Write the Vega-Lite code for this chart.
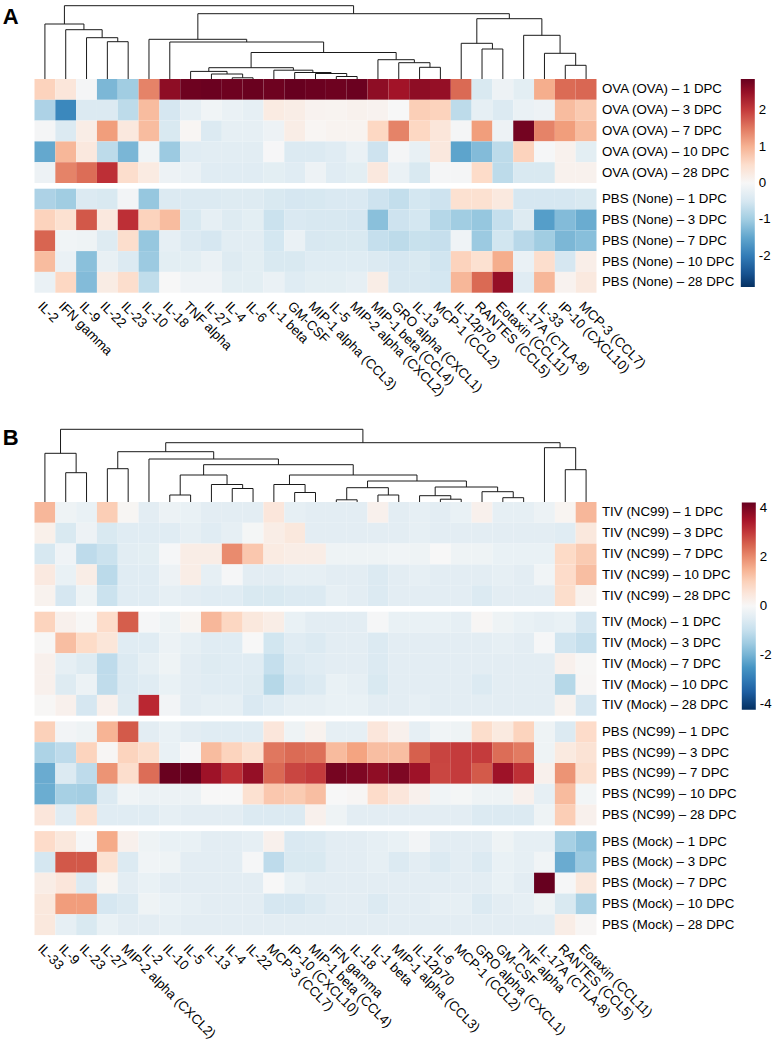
{
  "$schema": "https://vega.github.io/schema/vega-lite/v6.json",
  "padding": {"left": 2.5, "top": 5, "right": 0, "bottom": 0},
  "config": {
    "view": {"stroke": null},
    "font": "Liberation Sans",
    "axis": {"labelColor": "#000", "labelFontSize": 13.3, "labelFont": "Liberation Sans"},
    "legend": {"labelColor": "#000", "labelFontSize": 13.3, "labelFont": "Liberation Sans"},
    "title": {"color": "#000"}
  },
  "datasets": {
    "treeA": [
      {"left": 3, "right": 4, "height": 37.3, "leftHeight": 0, "rightHeight": 0},
      {"left": 2, "right": 3.5, "height": 41.3, "leftHeight": 0, "rightHeight": 37.3},
      {"left": 1, "right": 2.75, "height": 49.3, "leftHeight": 0, "rightHeight": 41.3},
      {"left": 0, "right": 1.875, "height": 55, "leftHeight": 0, "rightHeight": 49.3},
      {"left": 9, "right": 10, "height": 1.2, "leftHeight": 0, "rightHeight": 0},
      {"left": 8, "right": 9.5, "height": 5, "leftHeight": 0, "rightHeight": 1.2},
      {"left": 7, "right": 8.75, "height": 7.6, "leftHeight": 0, "rightHeight": 5},
      {"left": 14, "right": 15, "height": 2.5, "leftHeight": 0, "rightHeight": 0},
      {"left": 13, "right": 14.5, "height": 5.5, "leftHeight": 0, "rightHeight": 2.5},
      {"left": 12, "right": 13.75, "height": 6.5, "leftHeight": 0, "rightHeight": 5.5},
      {"left": 11, "right": 12.875, "height": 8.8, "leftHeight": 0, "rightHeight": 6.5},
      {"left": 7.875, "right": 11.9375, "height": 11.3, "leftHeight": 7.6, "rightHeight": 8.8},
      {"left": 18, "right": 19, "height": 11.7, "leftHeight": 0, "rightHeight": 0},
      {"left": 17, "right": 18.5, "height": 16.3, "leftHeight": 0, "rightHeight": 11.7},
      {"left": 16, "right": 17.75, "height": 19.3, "leftHeight": 0, "rightHeight": 16.3},
      {"left": 9.90625, "right": 16.875, "height": 26.5, "leftHeight": 11.3, "rightHeight": 19.3},
      {"left": 6, "right": 13.390625, "height": 37, "leftHeight": 0, "rightHeight": 26.5},
      {"left": 5, "right": 9.6953125, "height": 39.7, "leftHeight": 0, "rightHeight": 37},
      {"left": 21, "right": 22, "height": 30, "leftHeight": 0, "rightHeight": 0},
      {"left": 20, "right": 21.5, "height": 35.7, "leftHeight": 0, "rightHeight": 30},
      {"left": 25, "right": 26, "height": 13.7, "leftHeight": 0, "rightHeight": 0},
      {"left": 24, "right": 25.5, "height": 25.7, "leftHeight": 0, "rightHeight": 13.7},
      {"left": 23, "right": 24.75, "height": 43.7, "leftHeight": 0, "rightHeight": 25.7},
      {"left": 20.75, "right": 23.875, "height": 60.3, "leftHeight": 35.7, "rightHeight": 43.7},
      {"left": 7.34765625, "right": 22.3125, "height": 65.3, "leftHeight": 39.7, "rightHeight": 60.3},
      {"left": 0.9375, "right": 14.830078125, "height": 73.3, "leftHeight": 55, "rightHeight": 65.3}
    ],
    "treeB": [
      {"left": 1, "right": 2, "height": 29.3, "leftHeight": 0, "rightHeight": 0},
      {"left": 0, "right": 1.5, "height": 48.7, "leftHeight": 0, "rightHeight": 29.3},
      {"left": 25, "right": 26, "height": 32.3, "leftHeight": 0, "rightHeight": 0},
      {"left": 24, "right": 25.5, "height": 54.3, "leftHeight": 0, "rightHeight": 32.3},
      {"left": 3, "right": 4, "height": 33.3, "leftHeight": 0, "rightHeight": 0},
      {"left": 6, "right": 7, "height": 7, "leftHeight": 0, "rightHeight": 0},
      {"left": 9, "right": 10, "height": 13.5, "leftHeight": 0, "rightHeight": 0},
      {"left": 8, "right": 9.5, "height": 17.5, "leftHeight": 0, "rightHeight": 13.5},
      {"left": 6.5, "right": 8.75, "height": 27, "leftHeight": 7, "rightHeight": 17.5},
      {"left": 12, "right": 13, "height": 9.5, "leftHeight": 0, "rightHeight": 0},
      {"left": 11, "right": 12.5, "height": 17.5, "leftHeight": 0, "rightHeight": 9.5},
      {"left": 14, "right": 15, "height": 2.2, "leftHeight": 0, "rightHeight": 0},
      {"left": 16, "right": 17, "height": 7, "leftHeight": 0, "rightHeight": 0},
      {"left": 14.5, "right": 16.5, "height": 14.3, "leftHeight": 2.2, "rightHeight": 7},
      {"left": 19, "right": 20, "height": 2.8, "leftHeight": 0, "rightHeight": 0},
      {"left": 18, "right": 19.5, "height": 6.3, "leftHeight": 0, "rightHeight": 2.8},
      {"left": 22, "right": 23, "height": 4.3, "leftHeight": 0, "rightHeight": 0},
      {"left": 21, "right": 22.5, "height": 10.3, "leftHeight": 0, "rightHeight": 4.3},
      {"left": 18.75, "right": 21.75, "height": 15, "leftHeight": 6.3, "rightHeight": 10.3},
      {"left": 15.5, "right": 20.25, "height": 21, "leftHeight": 14.3, "rightHeight": 15},
      {"left": 11.75, "right": 17.875, "height": 27, "leftHeight": 17.5, "rightHeight": 21},
      {"left": 7.625, "right": 14.8125, "height": 37.3, "leftHeight": 27, "rightHeight": 27},
      {"left": 5, "right": 11.21875, "height": 43, "leftHeight": 0, "rightHeight": 37.3},
      {"left": 3.5, "right": 8.109375, "height": 50.3, "leftHeight": 33.3, "rightHeight": 43},
      {"left": 5.8046875, "right": 24.75, "height": 59.3, "leftHeight": 50.3, "rightHeight": 54.3},
      {"left": 0.75, "right": 15.27734375, "height": 72.7, "leftHeight": 48.7, "rightHeight": 59.3}
    ],
    "cellsA": [
      {"row":"OVA (OVA) – 1 DPC","col":"IL-2","z":0.65},{"row":"OVA (OVA) – 1 DPC","col":"IFN gamma","z":0.35},{"row":"OVA (OVA) – 1 DPC","col":"IL-9","z":-0.05},{"row":"OVA (OVA) – 1 DPC","col":"IL-22","z":-1.3},{"row":"OVA (OVA) – 1 DPC","col":"IL-23","z":-1.0},{"row":"OVA (OVA) – 1 DPC","col":"IL-10","z":1.42},{"row":"OVA (OVA) – 1 DPC","col":"IL-18","z":2.55},{"row":"OVA (OVA) – 1 DPC","col":"TNF alpha","z":2.8},{"row":"OVA (OVA) – 1 DPC","col":"IL-27","z":2.82},{"row":"OVA (OVA) – 1 DPC","col":"IL-4","z":2.8},{"row":"OVA (OVA) – 1 DPC","col":"IL-6","z":2.83},{"row":"OVA (OVA) – 1 DPC","col":"IL-1 beta","z":2.8},{"row":"OVA (OVA) – 1 DPC","col":"GM-CSF","z":2.85},{"row":"OVA (OVA) – 1 DPC","col":"MIP-1 alpha (CCL3)","z":2.82},{"row":"OVA (OVA) – 1 DPC","col":"IL-5","z":2.8},{"row":"OVA (OVA) – 1 DPC","col":"MIP-2 alpha (CXCL2)","z":2.82},{"row":"OVA (OVA) – 1 DPC","col":"MIP-1 beta (CCL4)","z":2.55},{"row":"OVA (OVA) – 1 DPC","col":"GRO alpha (CXCL1)","z":2.4},{"row":"OVA (OVA) – 1 DPC","col":"IL-13","z":2.55},{"row":"OVA (OVA) – 1 DPC","col":"MCP-1 (CCL2)","z":2.5},{"row":"OVA (OVA) – 1 DPC","col":"IL-12p70","z":1.63},{"row":"OVA (OVA) – 1 DPC","col":"RANTES (CCL5)","z":-0.45},{"row":"OVA (OVA) – 1 DPC","col":"Eotaxin (CCL11)","z":-0.15},{"row":"OVA (OVA) – 1 DPC","col":"IL-17A (CTLA-8)","z":-0.3},{"row":"OVA (OVA) – 1 DPC","col":"IL-33","z":1.05},{"row":"OVA (OVA) – 1 DPC","col":"IP-10 (CXCL10)","z":1.62},{"row":"OVA (OVA) – 1 DPC","col":"MCP-3 (CCL7)","z":1.65},
      {"row":"OVA (OVA) – 3 DPC","col":"IL-2","z":-0.9},{"row":"OVA (OVA) – 3 DPC","col":"IFN gamma","z":-1.85},{"row":"OVA (OVA) – 3 DPC","col":"IL-9","z":-0.4},{"row":"OVA (OVA) – 3 DPC","col":"IL-22","z":-0.4},{"row":"OVA (OVA) – 3 DPC","col":"IL-23","z":-0.75},{"row":"OVA (OVA) – 3 DPC","col":"IL-10","z":0.9},{"row":"OVA (OVA) – 3 DPC","col":"IL-18","z":-0.5},{"row":"OVA (OVA) – 3 DPC","col":"TNF alpha","z":-0.25},{"row":"OVA (OVA) – 3 DPC","col":"IL-27","z":-0.1},{"row":"OVA (OVA) – 3 DPC","col":"IL-4","z":-0.2},{"row":"OVA (OVA) – 3 DPC","col":"IL-6","z":-0.25},{"row":"OVA (OVA) – 3 DPC","col":"IL-1 beta","z":0.25},{"row":"OVA (OVA) – 3 DPC","col":"GM-CSF","z":0.2},{"row":"OVA (OVA) – 3 DPC","col":"MIP-1 alpha (CCL3)","z":0.1},{"row":"OVA (OVA) – 3 DPC","col":"IL-5","z":0.08},{"row":"OVA (OVA) – 3 DPC","col":"MIP-2 alpha (CXCL2)","z":0.12},{"row":"OVA (OVA) – 3 DPC","col":"MIP-1 beta (CCL4)","z":0.1},{"row":"OVA (OVA) – 3 DPC","col":"GRO alpha (CXCL1)","z":0.0},{"row":"OVA (OVA) – 3 DPC","col":"IL-13","z":0.7},{"row":"OVA (OVA) – 3 DPC","col":"MCP-1 (CCL2)","z":0.65},{"row":"OVA (OVA) – 3 DPC","col":"IL-12p70","z":-0.75},{"row":"OVA (OVA) – 3 DPC","col":"RANTES (CCL5)","z":-0.25},{"row":"OVA (OVA) – 3 DPC","col":"Eotaxin (CCL11)","z":-0.4},{"row":"OVA (OVA) – 3 DPC","col":"IL-17A (CTLA-8)","z":-0.2},{"row":"OVA (OVA) – 3 DPC","col":"IL-33","z":-0.15},{"row":"OVA (OVA) – 3 DPC","col":"IP-10 (CXCL10)","z":0.9},{"row":"OVA (OVA) – 3 DPC","col":"MCP-3 (CCL7)","z":0.75},
      {"row":"OVA (OVA) – 7 DPC","col":"IL-2","z":-0.05},{"row":"OVA (OVA) – 7 DPC","col":"IFN gamma","z":-0.4},{"row":"OVA (OVA) – 7 DPC","col":"IL-9","z":0.2},{"row":"OVA (OVA) – 7 DPC","col":"IL-22","z":1.2},{"row":"OVA (OVA) – 7 DPC","col":"IL-23","z":0.3},{"row":"OVA (OVA) – 7 DPC","col":"IL-10","z":0.9},{"row":"OVA (OVA) – 7 DPC","col":"IL-18","z":-0.45},{"row":"OVA (OVA) – 7 DPC","col":"TNF alpha","z":0.05},{"row":"OVA (OVA) – 7 DPC","col":"IL-27","z":-0.4},{"row":"OVA (OVA) – 7 DPC","col":"IL-4","z":-0.25},{"row":"OVA (OVA) – 7 DPC","col":"IL-6","z":-0.25},{"row":"OVA (OVA) – 7 DPC","col":"IL-1 beta","z":-0.15},{"row":"OVA (OVA) – 7 DPC","col":"GM-CSF","z":0.2},{"row":"OVA (OVA) – 7 DPC","col":"MIP-1 alpha (CCL3)","z":0.05},{"row":"OVA (OVA) – 7 DPC","col":"IL-5","z":0.08},{"row":"OVA (OVA) – 7 DPC","col":"MIP-2 alpha (CXCL2)","z":0.08},{"row":"OVA (OVA) – 7 DPC","col":"MIP-1 beta (CCL4)","z":0.6},{"row":"OVA (OVA) – 7 DPC","col":"GRO alpha (CXCL1)","z":1.42},{"row":"OVA (OVA) – 7 DPC","col":"IL-13","z":0.6},{"row":"OVA (OVA) – 7 DPC","col":"MCP-1 (CCL2)","z":0.35},{"row":"OVA (OVA) – 7 DPC","col":"IL-12p70","z":-0.05},{"row":"OVA (OVA) – 7 DPC","col":"RANTES (CCL5)","z":1.2},{"row":"OVA (OVA) – 7 DPC","col":"Eotaxin (CCL11)","z":-0.15},{"row":"OVA (OVA) – 7 DPC","col":"IL-17A (CTLA-8)","z":2.75},{"row":"OVA (OVA) – 7 DPC","col":"IL-33","z":1.42},{"row":"OVA (OVA) – 7 DPC","col":"IP-10 (CXCL10)","z":1.2},{"row":"OVA (OVA) – 7 DPC","col":"MCP-3 (CCL7)","z":0.9},
      {"row":"OVA (OVA) – 10 DPC","col":"IL-2","z":-1.47},{"row":"OVA (OVA) – 10 DPC","col":"IFN gamma","z":0.95},{"row":"OVA (OVA) – 10 DPC","col":"IL-9","z":0.3},{"row":"OVA (OVA) – 10 DPC","col":"IL-22","z":-0.75},{"row":"OVA (OVA) – 10 DPC","col":"IL-23","z":-1.31},{"row":"OVA (OVA) – 10 DPC","col":"IL-10","z":-0.1},{"row":"OVA (OVA) – 10 DPC","col":"IL-18","z":-1.05},{"row":"OVA (OVA) – 10 DPC","col":"TNF alpha","z":-0.35},{"row":"OVA (OVA) – 10 DPC","col":"IL-27","z":-0.32},{"row":"OVA (OVA) – 10 DPC","col":"IL-4","z":-0.32},{"row":"OVA (OVA) – 10 DPC","col":"IL-6","z":-0.32},{"row":"OVA (OVA) – 10 DPC","col":"IL-1 beta","z":-0.02},{"row":"OVA (OVA) – 10 DPC","col":"GM-CSF","z":-0.4},{"row":"OVA (OVA) – 10 DPC","col":"MIP-1 alpha (CCL3)","z":-0.4},{"row":"OVA (OVA) – 10 DPC","col":"IL-5","z":-0.35},{"row":"OVA (OVA) – 10 DPC","col":"MIP-2 alpha (CXCL2)","z":-0.2},{"row":"OVA (OVA) – 10 DPC","col":"MIP-1 beta (CCL4)","z":-0.6},{"row":"OVA (OVA) – 10 DPC","col":"GRO alpha (CXCL1)","z":-0.05},{"row":"OVA (OVA) – 10 DPC","col":"IL-13","z":-0.22},{"row":"OVA (OVA) – 10 DPC","col":"MCP-1 (CCL2)","z":0.3},{"row":"OVA (OVA) – 10 DPC","col":"IL-12p70","z":-1.52},{"row":"OVA (OVA) – 10 DPC","col":"RANTES (CCL5)","z":-1.25},{"row":"OVA (OVA) – 10 DPC","col":"Eotaxin (CCL11)","z":-0.75},{"row":"OVA (OVA) – 10 DPC","col":"IL-17A (CTLA-8)","z":0.65},{"row":"OVA (OVA) – 10 DPC","col":"IL-33","z":-0.03},{"row":"OVA (OVA) – 10 DPC","col":"IP-10 (CXCL10)","z":0.12},{"row":"OVA (OVA) – 10 DPC","col":"MCP-3 (CCL7)","z":-0.3},
      {"row":"OVA (OVA) – 28 DPC","col":"IL-2","z":-0.15},{"row":"OVA (OVA) – 28 DPC","col":"IFN gamma","z":1.42},{"row":"OVA (OVA) – 28 DPC","col":"IL-9","z":1.6},{"row":"OVA (OVA) – 28 DPC","col":"IL-22","z":2.1},{"row":"OVA (OVA) – 28 DPC","col":"IL-23","z":0.5},{"row":"OVA (OVA) – 28 DPC","col":"IL-10","z":0.25},{"row":"OVA (OVA) – 28 DPC","col":"IL-18","z":-0.15},{"row":"OVA (OVA) – 28 DPC","col":"TNF alpha","z":-0.2},{"row":"OVA (OVA) – 28 DPC","col":"IL-27","z":-0.35},{"row":"OVA (OVA) – 28 DPC","col":"IL-4","z":-0.35},{"row":"OVA (OVA) – 28 DPC","col":"IL-6","z":-0.35},{"row":"OVA (OVA) – 28 DPC","col":"IL-1 beta","z":-0.3},{"row":"OVA (OVA) – 28 DPC","col":"GM-CSF","z":-0.35},{"row":"OVA (OVA) – 28 DPC","col":"MIP-1 alpha (CCL3)","z":-0.15},{"row":"OVA (OVA) – 28 DPC","col":"IL-5","z":-0.35},{"row":"OVA (OVA) – 28 DPC","col":"MIP-2 alpha (CXCL2)","z":-0.3},{"row":"OVA (OVA) – 28 DPC","col":"MIP-1 beta (CCL4)","z":0.3},{"row":"OVA (OVA) – 28 DPC","col":"GRO alpha (CXCL1)","z":-0.2},{"row":"OVA (OVA) – 28 DPC","col":"IL-13","z":-0.45},{"row":"OVA (OVA) – 28 DPC","col":"MCP-1 (CCL2)","z":-0.05},{"row":"OVA (OVA) – 28 DPC","col":"IL-12p70","z":-0.05},{"row":"OVA (OVA) – 28 DPC","col":"RANTES (CCL5)","z":0.55},{"row":"OVA (OVA) – 28 DPC","col":"Eotaxin (CCL11)","z":-0.75},{"row":"OVA (OVA) – 28 DPC","col":"IL-17A (CTLA-8)","z":-0.45},{"row":"OVA (OVA) – 28 DPC","col":"IL-33","z":-0.45},{"row":"OVA (OVA) – 28 DPC","col":"IP-10 (CXCL10)","z":0.12},{"row":"OVA (OVA) – 28 DPC","col":"MCP-3 (CCL7)","z":0.12},
      {"row":"PBS (None) – 1 DPC","col":"IL-2","z":-0.9},{"row":"PBS (None) – 1 DPC","col":"IFN gamma","z":-1.0},{"row":"PBS (None) – 1 DPC","col":"IL-9","z":-0.4},{"row":"PBS (None) – 1 DPC","col":"IL-22","z":-0.45},{"row":"PBS (None) – 1 DPC","col":"IL-23","z":-0.08},{"row":"PBS (None) – 1 DPC","col":"IL-10","z":-1.1},{"row":"PBS (None) – 1 DPC","col":"IL-18","z":-0.4},{"row":"PBS (None) – 1 DPC","col":"TNF alpha","z":-0.4},{"row":"PBS (None) – 1 DPC","col":"IL-27","z":-0.4},{"row":"PBS (None) – 1 DPC","col":"IL-4","z":-0.38},{"row":"PBS (None) – 1 DPC","col":"IL-6","z":-0.38},{"row":"PBS (None) – 1 DPC","col":"IL-1 beta","z":-0.45},{"row":"PBS (None) – 1 DPC","col":"GM-CSF","z":-0.5},{"row":"PBS (None) – 1 DPC","col":"MIP-1 alpha (CCL3)","z":-0.48},{"row":"PBS (None) – 1 DPC","col":"IL-5","z":-0.43},{"row":"PBS (None) – 1 DPC","col":"MIP-2 alpha (CXCL2)","z":-0.43},{"row":"PBS (None) – 1 DPC","col":"MIP-1 beta (CCL4)","z":-0.6},{"row":"PBS (None) – 1 DPC","col":"GRO alpha (CXCL1)","z":-0.7},{"row":"PBS (None) – 1 DPC","col":"IL-13","z":-0.52},{"row":"PBS (None) – 1 DPC","col":"MCP-1 (CCL2)","z":-0.6},{"row":"PBS (None) – 1 DPC","col":"IL-12p70","z":0.45},{"row":"PBS (None) – 1 DPC","col":"RANTES (CCL5)","z":0.45},{"row":"PBS (None) – 1 DPC","col":"Eotaxin (CCL11)","z":0.28},{"row":"PBS (None) – 1 DPC","col":"IL-17A (CTLA-8)","z":-0.5},{"row":"PBS (None) – 1 DPC","col":"IL-33","z":-0.5},{"row":"PBS (None) – 1 DPC","col":"IP-10 (CXCL10)","z":-0.5},{"row":"PBS (None) – 1 DPC","col":"MCP-3 (CCL7)","z":-0.45},
      {"row":"PBS (None) – 3 DPC","col":"IL-2","z":0.65},{"row":"PBS (None) – 3 DPC","col":"IFN gamma","z":0.45},{"row":"PBS (None) – 3 DPC","col":"IL-9","z":1.77},{"row":"PBS (None) – 3 DPC","col":"IL-22","z":0.3},{"row":"PBS (None) – 3 DPC","col":"IL-23","z":2.1},{"row":"PBS (None) – 3 DPC","col":"IL-10","z":0.65},{"row":"PBS (None) – 3 DPC","col":"IL-18","z":0.9},{"row":"PBS (None) – 3 DPC","col":"TNF alpha","z":-0.45},{"row":"PBS (None) – 3 DPC","col":"IL-27","z":-0.25},{"row":"PBS (None) – 3 DPC","col":"IL-4","z":-0.38},{"row":"PBS (None) – 3 DPC","col":"IL-6","z":-0.3},{"row":"PBS (None) – 3 DPC","col":"IL-1 beta","z":-0.62},{"row":"PBS (None) – 3 DPC","col":"GM-CSF","z":-0.43},{"row":"PBS (None) – 3 DPC","col":"MIP-1 alpha (CCL3)","z":-0.47},{"row":"PBS (None) – 3 DPC","col":"IL-5","z":-0.47},{"row":"PBS (None) – 3 DPC","col":"MIP-2 alpha (CXCL2)","z":-0.5},{"row":"PBS (None) – 3 DPC","col":"MIP-1 beta (CCL4)","z":-1.2},{"row":"PBS (None) – 3 DPC","col":"GRO alpha (CXCL1)","z":-0.6},{"row":"PBS (None) – 3 DPC","col":"IL-13","z":-0.52},{"row":"PBS (None) – 3 DPC","col":"MCP-1 (CCL2)","z":-0.82},{"row":"PBS (None) – 3 DPC","col":"IL-12p70","z":-1.0},{"row":"PBS (None) – 3 DPC","col":"RANTES (CCL5)","z":-1.1},{"row":"PBS (None) – 3 DPC","col":"Eotaxin (CCL11)","z":-0.68},{"row":"PBS (None) – 3 DPC","col":"IL-17A (CTLA-8)","z":-0.38},{"row":"PBS (None) – 3 DPC","col":"IL-33","z":-1.58},{"row":"PBS (None) – 3 DPC","col":"IP-10 (CXCL10)","z":-1.25},{"row":"PBS (None) – 3 DPC","col":"MCP-3 (CCL7)","z":-1.43},
      {"row":"PBS (None) – 7 DPC","col":"IL-2","z":1.67},{"row":"PBS (None) – 7 DPC","col":"IFN gamma","z":-0.1},{"row":"PBS (None) – 7 DPC","col":"IL-9","z":-0.13},{"row":"PBS (None) – 7 DPC","col":"IL-22","z":-0.38},{"row":"PBS (None) – 7 DPC","col":"IL-23","z":0.5},{"row":"PBS (None) – 7 DPC","col":"IL-10","z":-1.1},{"row":"PBS (None) – 7 DPC","col":"IL-18","z":-0.25},{"row":"PBS (None) – 7 DPC","col":"TNF alpha","z":-0.4},{"row":"PBS (None) – 7 DPC","col":"IL-27","z":-0.5},{"row":"PBS (None) – 7 DPC","col":"IL-4","z":-0.32},{"row":"PBS (None) – 7 DPC","col":"IL-6","z":-0.32},{"row":"PBS (None) – 7 DPC","col":"IL-1 beta","z":-0.52},{"row":"PBS (None) – 7 DPC","col":"GM-CSF","z":-0.2},{"row":"PBS (None) – 7 DPC","col":"MIP-1 alpha (CCL3)","z":-0.47},{"row":"PBS (None) – 7 DPC","col":"IL-5","z":-0.45},{"row":"PBS (None) – 7 DPC","col":"MIP-2 alpha (CXCL2)","z":-0.45},{"row":"PBS (None) – 7 DPC","col":"MIP-1 beta (CCL4)","z":-0.68},{"row":"PBS (None) – 7 DPC","col":"GRO alpha (CXCL1)","z":-0.75},{"row":"PBS (None) – 7 DPC","col":"IL-13","z":-0.65},{"row":"PBS (None) – 7 DPC","col":"MCP-1 (CCL2)","z":-0.67},{"row":"PBS (None) – 7 DPC","col":"IL-12p70","z":-0.12},{"row":"PBS (None) – 7 DPC","col":"RANTES (CCL5)","z":-1.05},{"row":"PBS (None) – 7 DPC","col":"Eotaxin (CCL11)","z":-0.55},{"row":"PBS (None) – 7 DPC","col":"IL-17A (CTLA-8)","z":-0.8},{"row":"PBS (None) – 7 DPC","col":"IL-33","z":-1.0},{"row":"PBS (None) – 7 DPC","col":"IP-10 (CXCL10)","z":-1.3},{"row":"PBS (None) – 7 DPC","col":"MCP-3 (CCL7)","z":-1.21},
      {"row":"PBS (None) – 10 DPC","col":"IL-2","z":0.9},{"row":"PBS (None) – 10 DPC","col":"IFN gamma","z":-0.2},{"row":"PBS (None) – 10 DPC","col":"IL-9","z":-1.2},{"row":"PBS (None) – 10 DPC","col":"IL-22","z":-0.22},{"row":"PBS (None) – 10 DPC","col":"IL-23","z":-0.4},{"row":"PBS (None) – 10 DPC","col":"IL-10","z":-1.05},{"row":"PBS (None) – 10 DPC","col":"IL-18","z":-0.3},{"row":"PBS (None) – 10 DPC","col":"TNF alpha","z":-0.3},{"row":"PBS (None) – 10 DPC","col":"IL-27","z":-0.2},{"row":"PBS (None) – 10 DPC","col":"IL-4","z":-0.38},{"row":"PBS (None) – 10 DPC","col":"IL-6","z":-0.3},{"row":"PBS (None) – 10 DPC","col":"IL-1 beta","z":-0.45},{"row":"PBS (None) – 10 DPC","col":"GM-CSF","z":-0.45},{"row":"PBS (None) – 10 DPC","col":"MIP-1 alpha (CCL3)","z":-0.36},{"row":"PBS (None) – 10 DPC","col":"IL-5","z":-0.36},{"row":"PBS (None) – 10 DPC","col":"MIP-2 alpha (CXCL2)","z":-0.36},{"row":"PBS (None) – 10 DPC","col":"MIP-1 beta (CCL4)","z":-0.4},{"row":"PBS (None) – 10 DPC","col":"GRO alpha (CXCL1)","z":-0.5},{"row":"PBS (None) – 10 DPC","col":"IL-13","z":-0.45},{"row":"PBS (None) – 10 DPC","col":"MCP-1 (CCL2)","z":-0.57},{"row":"PBS (None) – 10 DPC","col":"IL-12p70","z":0.65},{"row":"PBS (None) – 10 DPC","col":"RANTES (CCL5)","z":0.45},{"row":"PBS (None) – 10 DPC","col":"Eotaxin (CCL11)","z":1.05},{"row":"PBS (None) – 10 DPC","col":"IL-17A (CTLA-8)","z":-0.2},{"row":"PBS (None) – 10 DPC","col":"IL-33","z":0.5},{"row":"PBS (None) – 10 DPC","col":"IP-10 (CXCL10)","z":-0.5},{"row":"PBS (None) – 10 DPC","col":"MCP-3 (CCL7)","z":0.18},
      {"row":"PBS (None) – 28 DPC","col":"IL-2","z":-0.2},{"row":"PBS (None) – 28 DPC","col":"IFN gamma","z":0.6},{"row":"PBS (None) – 28 DPC","col":"IL-9","z":-1.25},{"row":"PBS (None) – 28 DPC","col":"IL-22","z":0.22},{"row":"PBS (None) – 28 DPC","col":"IL-23","z":0.5},{"row":"PBS (None) – 28 DPC","col":"IL-10","z":-0.72},{"row":"PBS (None) – 28 DPC","col":"IL-18","z":0.0},{"row":"PBS (None) – 28 DPC","col":"TNF alpha","z":-0.12},{"row":"PBS (None) – 28 DPC","col":"IL-27","z":-0.12},{"row":"PBS (None) – 28 DPC","col":"IL-4","z":-0.3},{"row":"PBS (None) – 28 DPC","col":"IL-6","z":-0.3},{"row":"PBS (None) – 28 DPC","col":"IL-1 beta","z":-0.2},{"row":"PBS (None) – 28 DPC","col":"GM-CSF","z":-0.36},{"row":"PBS (None) – 28 DPC","col":"MIP-1 alpha (CCL3)","z":-0.3},{"row":"PBS (None) – 28 DPC","col":"IL-5","z":-0.3},{"row":"PBS (None) – 28 DPC","col":"MIP-2 alpha (CXCL2)","z":-0.25},{"row":"PBS (None) – 28 DPC","col":"MIP-1 beta (CCL4)","z":0.2},{"row":"PBS (None) – 28 DPC","col":"GRO alpha (CXCL1)","z":-0.47},{"row":"PBS (None) – 28 DPC","col":"IL-13","z":-0.47},{"row":"PBS (None) – 28 DPC","col":"MCP-1 (CCL2)","z":-0.52},{"row":"PBS (None) – 28 DPC","col":"IL-12p70","z":0.95},{"row":"PBS (None) – 28 DPC","col":"RANTES (CCL5)","z":1.63},{"row":"PBS (None) – 28 DPC","col":"Eotaxin (CCL11)","z":2.5},{"row":"PBS (None) – 28 DPC","col":"IL-17A (CTLA-8)","z":-0.35},{"row":"PBS (None) – 28 DPC","col":"IL-33","z":0.95},{"row":"PBS (None) – 28 DPC","col":"IP-10 (CXCL10)","z":0.1},{"row":"PBS (None) – 28 DPC","col":"MCP-3 (CCL7)","z":0.28}
    ],
    "cellsB": [
      {"row":"TIV (NC99) – 1 DPC","col":"IL-33","z":1.4},{"row":"TIV (NC99) – 1 DPC","col":"IL-9","z":-0.2},{"row":"TIV (NC99) – 1 DPC","col":"IL-23","z":-0.3},{"row":"TIV (NC99) – 1 DPC","col":"IL-27","z":1.05},{"row":"TIV (NC99) – 1 DPC","col":"MIP-2 alpha (CXCL2)","z":0.07},{"row":"TIV (NC99) – 1 DPC","col":"IL-2","z":-0.45},{"row":"TIV (NC99) – 1 DPC","col":"IL-10","z":-0.25},{"row":"TIV (NC99) – 1 DPC","col":"IL-5","z":-0.3},{"row":"TIV (NC99) – 1 DPC","col":"IL-13","z":-0.45},{"row":"TIV (NC99) – 1 DPC","col":"IL-4","z":-0.45},{"row":"TIV (NC99) – 1 DPC","col":"IL-22","z":-0.45},{"row":"TIV (NC99) – 1 DPC","col":"MCP-3 (CCL7)","z":0.5},{"row":"TIV (NC99) – 1 DPC","col":"IP-10 (CXCL10)","z":-0.37},{"row":"TIV (NC99) – 1 DPC","col":"MIP-1 beta (CCL4)","z":-0.45},{"row":"TIV (NC99) – 1 DPC","col":"IFN gamma","z":-0.45},{"row":"TIV (NC99) – 1 DPC","col":"IL-18","z":-0.45},{"row":"TIV (NC99) – 1 DPC","col":"IL-1 beta","z":0.2},{"row":"TIV (NC99) – 1 DPC","col":"MIP-1 alpha (CCL3)","z":-0.45},{"row":"TIV (NC99) – 1 DPC","col":"IL-12p70","z":-0.37},{"row":"TIV (NC99) – 1 DPC","col":"IL-6","z":-0.45},{"row":"TIV (NC99) – 1 DPC","col":"MCP-1 (CCL2)","z":-0.3},{"row":"TIV (NC99) – 1 DPC","col":"GRO alpha (CXCL1)","z":0.2},{"row":"TIV (NC99) – 1 DPC","col":"GM-CSF","z":-0.37},{"row":"TIV (NC99) – 1 DPC","col":"TNF alpha","z":-0.37},{"row":"TIV (NC99) – 1 DPC","col":"IL-17A (CTLA-8)","z":-0.25},{"row":"TIV (NC99) – 1 DPC","col":"RANTES (CCL5)","z":0.1},{"row":"TIV (NC99) – 1 DPC","col":"Eotaxin (CCL11)","z":1.4},
      {"row":"TIV (NC99) – 3 DPC","col":"IL-33","z":0.22},{"row":"TIV (NC99) – 3 DPC","col":"IL-9","z":-0.67},{"row":"TIV (NC99) – 3 DPC","col":"IL-23","z":-0.22},{"row":"TIV (NC99) – 3 DPC","col":"IL-27","z":-0.67},{"row":"TIV (NC99) – 3 DPC","col":"MIP-2 alpha (CXCL2)","z":-0.52},{"row":"TIV (NC99) – 3 DPC","col":"IL-2","z":-0.52},{"row":"TIV (NC99) – 3 DPC","col":"IL-10","z":-0.52},{"row":"TIV (NC99) – 3 DPC","col":"IL-5","z":-0.37},{"row":"TIV (NC99) – 3 DPC","col":"IL-13","z":-0.52},{"row":"TIV (NC99) – 3 DPC","col":"IL-4","z":-0.37},{"row":"TIV (NC99) – 3 DPC","col":"IL-22","z":-0.07},{"row":"TIV (NC99) – 3 DPC","col":"MCP-3 (CCL7)","z":0.3},{"row":"TIV (NC99) – 3 DPC","col":"IP-10 (CXCL10)","z":0.45},{"row":"TIV (NC99) – 3 DPC","col":"MIP-1 beta (CCL4)","z":-0.45},{"row":"TIV (NC99) – 3 DPC","col":"IFN gamma","z":-0.45},{"row":"TIV (NC99) – 3 DPC","col":"IL-18","z":-0.45},{"row":"TIV (NC99) – 3 DPC","col":"IL-1 beta","z":-0.45},{"row":"TIV (NC99) – 3 DPC","col":"MIP-1 alpha (CCL3)","z":-0.45},{"row":"TIV (NC99) – 3 DPC","col":"IL-12p70","z":-0.37},{"row":"TIV (NC99) – 3 DPC","col":"IL-6","z":-0.45},{"row":"TIV (NC99) – 3 DPC","col":"MCP-1 (CCL2)","z":-0.45},{"row":"TIV (NC99) – 3 DPC","col":"GRO alpha (CXCL1)","z":-0.45},{"row":"TIV (NC99) – 3 DPC","col":"GM-CSF","z":-0.45},{"row":"TIV (NC99) – 3 DPC","col":"TNF alpha","z":-0.45},{"row":"TIV (NC99) – 3 DPC","col":"IL-17A (CTLA-8)","z":-0.45},{"row":"TIV (NC99) – 3 DPC","col":"RANTES (CCL5)","z":-0.52},{"row":"TIV (NC99) – 3 DPC","col":"Eotaxin (CCL11)","z":0.45},
      {"row":"TIV (NC99) – 7 DPC","col":"IL-33","z":-0.7},{"row":"TIV (NC99) – 7 DPC","col":"IL-9","z":-0.18},{"row":"TIV (NC99) – 7 DPC","col":"IL-23","z":-1.1},{"row":"TIV (NC99) – 7 DPC","col":"IL-27","z":-0.92},{"row":"TIV (NC99) – 7 DPC","col":"MIP-2 alpha (CXCL2)","z":-0.47},{"row":"TIV (NC99) – 7 DPC","col":"IL-2","z":-0.44},{"row":"TIV (NC99) – 7 DPC","col":"IL-10","z":-0.05},{"row":"TIV (NC99) – 7 DPC","col":"IL-5","z":0.3},{"row":"TIV (NC99) – 7 DPC","col":"IL-13","z":0.3},{"row":"TIV (NC99) – 7 DPC","col":"IL-4","z":2.0},{"row":"TIV (NC99) – 7 DPC","col":"IL-22","z":1.15},{"row":"TIV (NC99) – 7 DPC","col":"MCP-3 (CCL7)","z":0.37},{"row":"TIV (NC99) – 7 DPC","col":"IP-10 (CXCL10)","z":0.3},{"row":"TIV (NC99) – 7 DPC","col":"MIP-1 beta (CCL4)","z":0.3},{"row":"TIV (NC99) – 7 DPC","col":"IFN gamma","z":-0.2},{"row":"TIV (NC99) – 7 DPC","col":"IL-18","z":-0.2},{"row":"TIV (NC99) – 7 DPC","col":"IL-1 beta","z":-0.2},{"row":"TIV (NC99) – 7 DPC","col":"MIP-1 alpha (CCL3)","z":-0.15},{"row":"TIV (NC99) – 7 DPC","col":"IL-12p70","z":-0.2},{"row":"TIV (NC99) – 7 DPC","col":"IL-6","z":0.0},{"row":"TIV (NC99) – 7 DPC","col":"MCP-1 (CCL2)","z":-0.2},{"row":"TIV (NC99) – 7 DPC","col":"GRO alpha (CXCL1)","z":-0.2},{"row":"TIV (NC99) – 7 DPC","col":"GM-CSF","z":-0.3},{"row":"TIV (NC99) – 7 DPC","col":"TNF alpha","z":-0.3},{"row":"TIV (NC99) – 7 DPC","col":"IL-17A (CTLA-8)","z":-0.3},{"row":"TIV (NC99) – 7 DPC","col":"RANTES (CCL5)","z":0.85},{"row":"TIV (NC99) – 7 DPC","col":"Eotaxin (CCL11)","z":1.1},
      {"row":"TIV (NC99) – 10 DPC","col":"IL-33","z":0.41},{"row":"TIV (NC99) – 10 DPC","col":"IL-9","z":-0.3},{"row":"TIV (NC99) – 10 DPC","col":"IL-23","z":0.3},{"row":"TIV (NC99) – 10 DPC","col":"IL-27","z":-1.14},{"row":"TIV (NC99) – 10 DPC","col":"MIP-2 alpha (CXCL2)","z":-0.52},{"row":"TIV (NC99) – 10 DPC","col":"IL-2","z":-0.52},{"row":"TIV (NC99) – 10 DPC","col":"IL-10","z":-0.22},{"row":"TIV (NC99) – 10 DPC","col":"IL-5","z":0.3},{"row":"TIV (NC99) – 10 DPC","col":"IL-13","z":-0.37},{"row":"TIV (NC99) – 10 DPC","col":"IL-4","z":-0.05},{"row":"TIV (NC99) – 10 DPC","col":"IL-22","z":-0.45},{"row":"TIV (NC99) – 10 DPC","col":"MCP-3 (CCL7)","z":-0.45},{"row":"TIV (NC99) – 10 DPC","col":"IP-10 (CXCL10)","z":-0.37},{"row":"TIV (NC99) – 10 DPC","col":"MIP-1 beta (CCL4)","z":-0.37},{"row":"TIV (NC99) – 10 DPC","col":"IFN gamma","z":-0.45},{"row":"TIV (NC99) – 10 DPC","col":"IL-18","z":-0.45},{"row":"TIV (NC99) – 10 DPC","col":"IL-1 beta","z":-0.6},{"row":"TIV (NC99) – 10 DPC","col":"MIP-1 alpha (CCL3)","z":-0.45},{"row":"TIV (NC99) – 10 DPC","col":"IL-12p70","z":-0.37},{"row":"TIV (NC99) – 10 DPC","col":"IL-6","z":-0.45},{"row":"TIV (NC99) – 10 DPC","col":"MCP-1 (CCL2)","z":-0.45},{"row":"TIV (NC99) – 10 DPC","col":"GRO alpha (CXCL1)","z":-0.45},{"row":"TIV (NC99) – 10 DPC","col":"GM-CSF","z":-0.37},{"row":"TIV (NC99) – 10 DPC","col":"TNF alpha","z":-0.45},{"row":"TIV (NC99) – 10 DPC","col":"IL-17A (CTLA-8)","z":-0.15},{"row":"TIV (NC99) – 10 DPC","col":"RANTES (CCL5)","z":0.8},{"row":"TIV (NC99) – 10 DPC","col":"Eotaxin (CCL11)","z":1.3},
      {"row":"TIV (NC99) – 28 DPC","col":"IL-33","z":0.15},{"row":"TIV (NC99) – 28 DPC","col":"IL-9","z":-0.74},{"row":"TIV (NC99) – 28 DPC","col":"IL-23","z":-0.2},{"row":"TIV (NC99) – 28 DPC","col":"IL-27","z":-0.92},{"row":"TIV (NC99) – 28 DPC","col":"MIP-2 alpha (CXCL2)","z":-0.52},{"row":"TIV (NC99) – 28 DPC","col":"IL-2","z":-0.52},{"row":"TIV (NC99) – 28 DPC","col":"IL-10","z":-0.37},{"row":"TIV (NC99) – 28 DPC","col":"IL-5","z":-0.45},{"row":"TIV (NC99) – 28 DPC","col":"IL-13","z":-0.52},{"row":"TIV (NC99) – 28 DPC","col":"IL-4","z":-0.52},{"row":"TIV (NC99) – 28 DPC","col":"IL-22","z":-0.67},{"row":"TIV (NC99) – 28 DPC","col":"MCP-3 (CCL7)","z":-0.67},{"row":"TIV (NC99) – 28 DPC","col":"IP-10 (CXCL10)","z":-0.6},{"row":"TIV (NC99) – 28 DPC","col":"MIP-1 beta (CCL4)","z":-0.6},{"row":"TIV (NC99) – 28 DPC","col":"IFN gamma","z":-0.37},{"row":"TIV (NC99) – 28 DPC","col":"IL-18","z":-0.45},{"row":"TIV (NC99) – 28 DPC","col":"IL-1 beta","z":-0.6},{"row":"TIV (NC99) – 28 DPC","col":"MIP-1 alpha (CCL3)","z":-0.45},{"row":"TIV (NC99) – 28 DPC","col":"IL-12p70","z":-0.45},{"row":"TIV (NC99) – 28 DPC","col":"IL-6","z":-0.45},{"row":"TIV (NC99) – 28 DPC","col":"MCP-1 (CCL2)","z":-0.45},{"row":"TIV (NC99) – 28 DPC","col":"GRO alpha (CXCL1)","z":-0.6},{"row":"TIV (NC99) – 28 DPC","col":"GM-CSF","z":-0.45},{"row":"TIV (NC99) – 28 DPC","col":"TNF alpha","z":-0.45},{"row":"TIV (NC99) – 28 DPC","col":"IL-17A (CTLA-8)","z":-0.45},{"row":"TIV (NC99) – 28 DPC","col":"RANTES (CCL5)","z":0.75},{"row":"TIV (NC99) – 28 DPC","col":"Eotaxin (CCL11)","z":0.15},
      {"row":"TIV (Mock) – 1 DPC","col":"IL-33","z":0.96},{"row":"TIV (Mock) – 1 DPC","col":"IL-9","z":0.2},{"row":"TIV (Mock) – 1 DPC","col":"IL-23","z":0.04},{"row":"TIV (Mock) – 1 DPC","col":"IL-27","z":0.78},{"row":"TIV (Mock) – 1 DPC","col":"MIP-2 alpha (CXCL2)","z":2.55},{"row":"TIV (Mock) – 1 DPC","col":"IL-2","z":-0.05},{"row":"TIV (Mock) – 1 DPC","col":"IL-10","z":-0.2},{"row":"TIV (Mock) – 1 DPC","col":"IL-5","z":0.1},{"row":"TIV (Mock) – 1 DPC","col":"IL-13","z":1.4},{"row":"TIV (Mock) – 1 DPC","col":"IL-4","z":0.9},{"row":"TIV (Mock) – 1 DPC","col":"IL-22","z":0.45},{"row":"TIV (Mock) – 1 DPC","col":"MCP-3 (CCL7)","z":0.3},{"row":"TIV (Mock) – 1 DPC","col":"IP-10 (CXCL10)","z":-0.3},{"row":"TIV (Mock) – 1 DPC","col":"MIP-1 beta (CCL4)","z":-0.45},{"row":"TIV (Mock) – 1 DPC","col":"IFN gamma","z":-0.45},{"row":"TIV (Mock) – 1 DPC","col":"IL-18","z":-0.45},{"row":"TIV (Mock) – 1 DPC","col":"IL-1 beta","z":-0.05},{"row":"TIV (Mock) – 1 DPC","col":"MIP-1 alpha (CCL3)","z":-0.3},{"row":"TIV (Mock) – 1 DPC","col":"IL-12p70","z":-0.3},{"row":"TIV (Mock) – 1 DPC","col":"IL-6","z":-0.3},{"row":"TIV (Mock) – 1 DPC","col":"MCP-1 (CCL2)","z":-0.37},{"row":"TIV (Mock) – 1 DPC","col":"GRO alpha (CXCL1)","z":0.05},{"row":"TIV (Mock) – 1 DPC","col":"GM-CSF","z":-0.2},{"row":"TIV (Mock) – 1 DPC","col":"TNF alpha","z":-0.3},{"row":"TIV (Mock) – 1 DPC","col":"IL-17A (CTLA-8)","z":-0.37},{"row":"TIV (Mock) – 1 DPC","col":"RANTES (CCL5)","z":-0.3},{"row":"TIV (Mock) – 1 DPC","col":"Eotaxin (CCL11)","z":-0.74},
      {"row":"TIV (Mock) – 3 DPC","col":"IL-33","z":0.04},{"row":"TIV (Mock) – 3 DPC","col":"IL-9","z":1.3},{"row":"TIV (Mock) – 3 DPC","col":"IL-23","z":0.82},{"row":"TIV (Mock) – 3 DPC","col":"IL-27","z":0.52},{"row":"TIV (Mock) – 3 DPC","col":"MIP-2 alpha (CXCL2)","z":-0.52},{"row":"TIV (Mock) – 3 DPC","col":"IL-2","z":-0.52},{"row":"TIV (Mock) – 3 DPC","col":"IL-10","z":-0.25},{"row":"TIV (Mock) – 3 DPC","col":"IL-5","z":-0.37},{"row":"TIV (Mock) – 3 DPC","col":"IL-13","z":-0.52},{"row":"TIV (Mock) – 3 DPC","col":"IL-4","z":-0.52},{"row":"TIV (Mock) – 3 DPC","col":"IL-22","z":0.0},{"row":"TIV (Mock) – 3 DPC","col":"MCP-3 (CCL7)","z":-0.82},{"row":"TIV (Mock) – 3 DPC","col":"IP-10 (CXCL10)","z":-0.52},{"row":"TIV (Mock) – 3 DPC","col":"MIP-1 beta (CCL4)","z":-0.6},{"row":"TIV (Mock) – 3 DPC","col":"IFN gamma","z":-0.45},{"row":"TIV (Mock) – 3 DPC","col":"IL-18","z":-0.45},{"row":"TIV (Mock) – 3 DPC","col":"IL-1 beta","z":-0.6},{"row":"TIV (Mock) – 3 DPC","col":"MIP-1 alpha (CCL3)","z":-0.45},{"row":"TIV (Mock) – 3 DPC","col":"IL-12p70","z":-0.45},{"row":"TIV (Mock) – 3 DPC","col":"IL-6","z":-0.45},{"row":"TIV (Mock) – 3 DPC","col":"MCP-1 (CCL2)","z":-0.45},{"row":"TIV (Mock) – 3 DPC","col":"GRO alpha (CXCL1)","z":-0.45},{"row":"TIV (Mock) – 3 DPC","col":"GM-CSF","z":-0.37},{"row":"TIV (Mock) – 3 DPC","col":"TNF alpha","z":-0.45},{"row":"TIV (Mock) – 3 DPC","col":"IL-17A (CTLA-8)","z":-0.05},{"row":"TIV (Mock) – 3 DPC","col":"RANTES (CCL5)","z":-0.85},{"row":"TIV (Mock) – 3 DPC","col":"Eotaxin (CCL11)","z":-1.0},
      {"row":"TIV (Mock) – 7 DPC","col":"IL-33","z":0.2},{"row":"TIV (Mock) – 7 DPC","col":"IL-9","z":-0.37},{"row":"TIV (Mock) – 7 DPC","col":"IL-23","z":-0.56},{"row":"TIV (Mock) – 7 DPC","col":"IL-27","z":-1.1},{"row":"TIV (Mock) – 7 DPC","col":"MIP-2 alpha (CXCL2)","z":-0.6},{"row":"TIV (Mock) – 7 DPC","col":"IL-2","z":-0.37},{"row":"TIV (Mock) – 7 DPC","col":"IL-10","z":-0.2},{"row":"TIV (Mock) – 7 DPC","col":"IL-5","z":-0.45},{"row":"TIV (Mock) – 7 DPC","col":"IL-13","z":-0.56},{"row":"TIV (Mock) – 7 DPC","col":"IL-4","z":-0.52},{"row":"TIV (Mock) – 7 DPC","col":"IL-22","z":-0.52},{"row":"TIV (Mock) – 7 DPC","col":"MCP-3 (CCL7)","z":-1.0},{"row":"TIV (Mock) – 7 DPC","col":"IP-10 (CXCL10)","z":-0.6},{"row":"TIV (Mock) – 7 DPC","col":"MIP-1 beta (CCL4)","z":-0.5},{"row":"TIV (Mock) – 7 DPC","col":"IFN gamma","z":-0.45},{"row":"TIV (Mock) – 7 DPC","col":"IL-18","z":-0.45},{"row":"TIV (Mock) – 7 DPC","col":"IL-1 beta","z":-0.6},{"row":"TIV (Mock) – 7 DPC","col":"MIP-1 alpha (CCL3)","z":-0.45},{"row":"TIV (Mock) – 7 DPC","col":"IL-12p70","z":-0.45},{"row":"TIV (Mock) – 7 DPC","col":"IL-6","z":-0.45},{"row":"TIV (Mock) – 7 DPC","col":"MCP-1 (CCL2)","z":-0.45},{"row":"TIV (Mock) – 7 DPC","col":"GRO alpha (CXCL1)","z":-0.45},{"row":"TIV (Mock) – 7 DPC","col":"GM-CSF","z":-0.45},{"row":"TIV (Mock) – 7 DPC","col":"TNF alpha","z":-0.45},{"row":"TIV (Mock) – 7 DPC","col":"IL-17A (CTLA-8)","z":-0.45},{"row":"TIV (Mock) – 7 DPC","col":"RANTES (CCL5)","z":0.2},{"row":"TIV (Mock) – 7 DPC","col":"Eotaxin (CCL11)","z":0.03},
      {"row":"TIV (Mock) – 10 DPC","col":"IL-33","z":0.2},{"row":"TIV (Mock) – 10 DPC","col":"IL-9","z":-0.56},{"row":"TIV (Mock) – 10 DPC","col":"IL-23","z":-0.25},{"row":"TIV (Mock) – 10 DPC","col":"IL-27","z":-1.07},{"row":"TIV (Mock) – 10 DPC","col":"MIP-2 alpha (CXCL2)","z":-0.6},{"row":"TIV (Mock) – 10 DPC","col":"IL-2","z":-0.52},{"row":"TIV (Mock) – 10 DPC","col":"IL-10","z":-0.3},{"row":"TIV (Mock) – 10 DPC","col":"IL-5","z":-0.45},{"row":"TIV (Mock) – 10 DPC","col":"IL-13","z":-0.52},{"row":"TIV (Mock) – 10 DPC","col":"IL-4","z":-0.52},{"row":"TIV (Mock) – 10 DPC","col":"IL-22","z":-0.56},{"row":"TIV (Mock) – 10 DPC","col":"MCP-3 (CCL7)","z":-1.2},{"row":"TIV (Mock) – 10 DPC","col":"IP-10 (CXCL10)","z":-0.74},{"row":"TIV (Mock) – 10 DPC","col":"MIP-1 beta (CCL4)","z":-0.6},{"row":"TIV (Mock) – 10 DPC","col":"IFN gamma","z":-0.3},{"row":"TIV (Mock) – 10 DPC","col":"IL-18","z":-0.37},{"row":"TIV (Mock) – 10 DPC","col":"IL-1 beta","z":-0.67},{"row":"TIV (Mock) – 10 DPC","col":"MIP-1 alpha (CCL3)","z":-0.45},{"row":"TIV (Mock) – 10 DPC","col":"IL-12p70","z":-0.45},{"row":"TIV (Mock) – 10 DPC","col":"IL-6","z":-0.45},{"row":"TIV (Mock) – 10 DPC","col":"MCP-1 (CCL2)","z":-0.45},{"row":"TIV (Mock) – 10 DPC","col":"GRO alpha (CXCL1)","z":-0.6},{"row":"TIV (Mock) – 10 DPC","col":"GM-CSF","z":-0.45},{"row":"TIV (Mock) – 10 DPC","col":"TNF alpha","z":-0.45},{"row":"TIV (Mock) – 10 DPC","col":"IL-17A (CTLA-8)","z":-0.45},{"row":"TIV (Mock) – 10 DPC","col":"RANTES (CCL5)","z":-1.2},{"row":"TIV (Mock) – 10 DPC","col":"Eotaxin (CCL11)","z":0.05},
      {"row":"TIV (Mock) – 28 DPC","col":"IL-33","z":0.04},{"row":"TIV (Mock) – 28 DPC","col":"IL-9","z":0.2},{"row":"TIV (Mock) – 28 DPC","col":"IL-23","z":-0.74},{"row":"TIV (Mock) – 28 DPC","col":"IL-27","z":0.2},{"row":"TIV (Mock) – 28 DPC","col":"MIP-2 alpha (CXCL2)","z":-0.56},{"row":"TIV (Mock) – 28 DPC","col":"IL-2","z":3.2},{"row":"TIV (Mock) – 28 DPC","col":"IL-10","z":-0.12},{"row":"TIV (Mock) – 28 DPC","col":"IL-5","z":-0.45},{"row":"TIV (Mock) – 28 DPC","col":"IL-13","z":-0.37},{"row":"TIV (Mock) – 28 DPC","col":"IL-4","z":-0.37},{"row":"TIV (Mock) – 28 DPC","col":"IL-22","z":-0.65},{"row":"TIV (Mock) – 28 DPC","col":"MCP-3 (CCL7)","z":-0.52},{"row":"TIV (Mock) – 28 DPC","col":"IP-10 (CXCL10)","z":-0.37},{"row":"TIV (Mock) – 28 DPC","col":"MIP-1 beta (CCL4)","z":-0.37},{"row":"TIV (Mock) – 28 DPC","col":"IFN gamma","z":-0.3},{"row":"TIV (Mock) – 28 DPC","col":"IL-18","z":-0.3},{"row":"TIV (Mock) – 28 DPC","col":"IL-1 beta","z":-0.45},{"row":"TIV (Mock) – 28 DPC","col":"MIP-1 alpha (CCL3)","z":-0.45},{"row":"TIV (Mock) – 28 DPC","col":"IL-12p70","z":-0.37},{"row":"TIV (Mock) – 28 DPC","col":"IL-6","z":-0.45},{"row":"TIV (Mock) – 28 DPC","col":"MCP-1 (CCL2)","z":-0.45},{"row":"TIV (Mock) – 28 DPC","col":"GRO alpha (CXCL1)","z":-0.45},{"row":"TIV (Mock) – 28 DPC","col":"GM-CSF","z":-0.45},{"row":"TIV (Mock) – 28 DPC","col":"TNF alpha","z":-0.45},{"row":"TIV (Mock) – 28 DPC","col":"IL-17A (CTLA-8)","z":-0.45},{"row":"TIV (Mock) – 28 DPC","col":"RANTES (CCL5)","z":0.15},{"row":"TIV (Mock) – 28 DPC","col":"Eotaxin (CCL11)","z":-0.74},
      {"row":"PBS (NC99) – 1 DPC","col":"IL-33","z":1.0},{"row":"PBS (NC99) – 1 DPC","col":"IL-9","z":-0.12},{"row":"PBS (NC99) – 1 DPC","col":"IL-23","z":-0.2},{"row":"PBS (NC99) – 1 DPC","col":"IL-27","z":1.45},{"row":"PBS (NC99) – 1 DPC","col":"MIP-2 alpha (CXCL2)","z":2.6},{"row":"PBS (NC99) – 1 DPC","col":"IL-2","z":-0.45},{"row":"PBS (NC99) – 1 DPC","col":"IL-10","z":-0.3},{"row":"PBS (NC99) – 1 DPC","col":"IL-5","z":-0.45},{"row":"PBS (NC99) – 1 DPC","col":"IL-13","z":-0.52},{"row":"PBS (NC99) – 1 DPC","col":"IL-4","z":-0.52},{"row":"PBS (NC99) – 1 DPC","col":"IL-22","z":-0.52},{"row":"PBS (NC99) – 1 DPC","col":"MCP-3 (CCL7)","z":0.5},{"row":"PBS (NC99) – 1 DPC","col":"IP-10 (CXCL10)","z":-0.2},{"row":"PBS (NC99) – 1 DPC","col":"MIP-1 beta (CCL4)","z":0.15},{"row":"PBS (NC99) – 1 DPC","col":"IFN gamma","z":-0.37},{"row":"PBS (NC99) – 1 DPC","col":"IL-18","z":-0.37},{"row":"PBS (NC99) – 1 DPC","col":"IL-1 beta","z":0.5},{"row":"PBS (NC99) – 1 DPC","col":"MIP-1 alpha (CCL3)","z":0.2},{"row":"PBS (NC99) – 1 DPC","col":"IL-12p70","z":-0.37},{"row":"PBS (NC99) – 1 DPC","col":"IL-6","z":-0.15},{"row":"PBS (NC99) – 1 DPC","col":"MCP-1 (CCL2)","z":-0.2},{"row":"PBS (NC99) – 1 DPC","col":"GRO alpha (CXCL1)","z":0.75},{"row":"PBS (NC99) – 1 DPC","col":"GM-CSF","z":0.4},{"row":"PBS (NC99) – 1 DPC","col":"TNF alpha","z":0.96},{"row":"PBS (NC99) – 1 DPC","col":"IL-17A (CTLA-8)","z":-0.2},{"row":"PBS (NC99) – 1 DPC","col":"RANTES (CCL5)","z":-0.6},{"row":"PBS (NC99) – 1 DPC","col":"Eotaxin (CCL11)","z":0.8},
      {"row":"PBS (NC99) – 3 DPC","col":"IL-33","z":-1.33},{"row":"PBS (NC99) – 3 DPC","col":"IL-9","z":-1.1},{"row":"PBS (NC99) – 3 DPC","col":"IL-23","z":0.96},{"row":"PBS (NC99) – 3 DPC","col":"IL-27","z":0.05},{"row":"PBS (NC99) – 3 DPC","col":"MIP-2 alpha (CXCL2)","z":0.96},{"row":"PBS (NC99) – 3 DPC","col":"IL-2","z":0.75},{"row":"PBS (NC99) – 3 DPC","col":"IL-10","z":-0.3},{"row":"PBS (NC99) – 3 DPC","col":"IL-5","z":-0.05},{"row":"PBS (NC99) – 3 DPC","col":"IL-13","z":1.33},{"row":"PBS (NC99) – 3 DPC","col":"IL-4","z":0.96},{"row":"PBS (NC99) – 3 DPC","col":"IL-22","z":0.67},{"row":"PBS (NC99) – 3 DPC","col":"MCP-3 (CCL7)","z":2.25},{"row":"PBS (NC99) – 3 DPC","col":"IP-10 (CXCL10)","z":2.4},{"row":"PBS (NC99) – 3 DPC","col":"MIP-1 beta (CCL4)","z":2.34},{"row":"PBS (NC99) – 3 DPC","col":"IFN gamma","z":1.35},{"row":"PBS (NC99) – 3 DPC","col":"IL-18","z":1.7},{"row":"PBS (NC99) – 3 DPC","col":"IL-1 beta","z":1.3},{"row":"PBS (NC99) – 3 DPC","col":"MIP-1 alpha (CCL3)","z":1.3},{"row":"PBS (NC99) – 3 DPC","col":"IL-12p70","z":2.53},{"row":"PBS (NC99) – 3 DPC","col":"IL-6","z":2.86},{"row":"PBS (NC99) – 3 DPC","col":"MCP-1 (CCL2)","z":2.96},{"row":"PBS (NC99) – 3 DPC","col":"GRO alpha (CXCL1)","z":2.96},{"row":"PBS (NC99) – 3 DPC","col":"GM-CSF","z":2.37},{"row":"PBS (NC99) – 3 DPC","col":"TNF alpha","z":2.2},{"row":"PBS (NC99) – 3 DPC","col":"IL-17A (CTLA-8)","z":-0.2},{"row":"PBS (NC99) – 3 DPC","col":"RANTES (CCL5)","z":0.4},{"row":"PBS (NC99) – 3 DPC","col":"Eotaxin (CCL11)","z":0.6},
      {"row":"PBS (NC99) – 7 DPC","col":"IL-33","z":-2.12},{"row":"PBS (NC99) – 7 DPC","col":"IL-9","z":-0.6},{"row":"PBS (NC99) – 7 DPC","col":"IL-23","z":-1.1},{"row":"PBS (NC99) – 7 DPC","col":"IL-27","z":1.9},{"row":"PBS (NC99) – 7 DPC","col":"MIP-2 alpha (CXCL2)","z":0.74},{"row":"PBS (NC99) – 7 DPC","col":"IL-2","z":2.37},{"row":"PBS (NC99) – 7 DPC","col":"IL-10","z":4.2},{"row":"PBS (NC99) – 7 DPC","col":"IL-5","z":4.2},{"row":"PBS (NC99) – 7 DPC","col":"IL-13","z":3.6},{"row":"PBS (NC99) – 7 DPC","col":"IL-4","z":3.1},{"row":"PBS (NC99) – 7 DPC","col":"IL-22","z":3.7},{"row":"PBS (NC99) – 7 DPC","col":"MCP-3 (CCL7)","z":2.42},{"row":"PBS (NC99) – 7 DPC","col":"IP-10 (CXCL10)","z":2.84},{"row":"PBS (NC99) – 7 DPC","col":"MIP-1 beta (CCL4)","z":2.96},{"row":"PBS (NC99) – 7 DPC","col":"IFN gamma","z":4.05},{"row":"PBS (NC99) – 7 DPC","col":"IL-18","z":3.96},{"row":"PBS (NC99) – 7 DPC","col":"IL-1 beta","z":3.77},{"row":"PBS (NC99) – 7 DPC","col":"MIP-1 alpha (CCL3)","z":3.96},{"row":"PBS (NC99) – 7 DPC","col":"IL-12p70","z":3.6},{"row":"PBS (NC99) – 7 DPC","col":"IL-6","z":2.84},{"row":"PBS (NC99) – 7 DPC","col":"MCP-1 (CCL2)","z":2.96},{"row":"PBS (NC99) – 7 DPC","col":"GRO alpha (CXCL1)","z":2.6},{"row":"PBS (NC99) – 7 DPC","col":"GM-CSF","z":3.6},{"row":"PBS (NC99) – 7 DPC","col":"TNF alpha","z":3.1},{"row":"PBS (NC99) – 7 DPC","col":"IL-17A (CTLA-8)","z":0.2},{"row":"PBS (NC99) – 7 DPC","col":"RANTES (CCL5)","z":1.9},{"row":"PBS (NC99) – 7 DPC","col":"Eotaxin (CCL11)","z":0.72},
      {"row":"PBS (NC99) – 10 DPC","col":"IL-33","z":-2.1},{"row":"PBS (NC99) – 10 DPC","col":"IL-9","z":-1.4},{"row":"PBS (NC99) – 10 DPC","col":"IL-23","z":-1.45},{"row":"PBS (NC99) – 10 DPC","col":"IL-27","z":-0.6},{"row":"PBS (NC99) – 10 DPC","col":"MIP-2 alpha (CXCL2)","z":-0.15},{"row":"PBS (NC99) – 10 DPC","col":"IL-2","z":-0.25},{"row":"PBS (NC99) – 10 DPC","col":"IL-10","z":-0.25},{"row":"PBS (NC99) – 10 DPC","col":"IL-5","z":-0.25},{"row":"PBS (NC99) – 10 DPC","col":"IL-13","z":0.0},{"row":"PBS (NC99) – 10 DPC","col":"IL-4","z":0.0},{"row":"PBS (NC99) – 10 DPC","col":"IL-22","z":0.67},{"row":"PBS (NC99) – 10 DPC","col":"MCP-3 (CCL7)","z":1.15},{"row":"PBS (NC99) – 10 DPC","col":"IP-10 (CXCL10)","z":1.1},{"row":"PBS (NC99) – 10 DPC","col":"MIP-1 beta (CCL4)","z":1.3},{"row":"PBS (NC99) – 10 DPC","col":"IFN gamma","z":0.0},{"row":"PBS (NC99) – 10 DPC","col":"IL-18","z":0.05},{"row":"PBS (NC99) – 10 DPC","col":"IL-1 beta","z":0.8},{"row":"PBS (NC99) – 10 DPC","col":"MIP-1 alpha (CCL3)","z":0.5},{"row":"PBS (NC99) – 10 DPC","col":"IL-12p70","z":0.2},{"row":"PBS (NC99) – 10 DPC","col":"IL-6","z":-0.15},{"row":"PBS (NC99) – 10 DPC","col":"MCP-1 (CCL2)","z":-0.07},{"row":"PBS (NC99) – 10 DPC","col":"GRO alpha (CXCL1)","z":-0.2},{"row":"PBS (NC99) – 10 DPC","col":"GM-CSF","z":-0.2},{"row":"PBS (NC99) – 10 DPC","col":"TNF alpha","z":0.2},{"row":"PBS (NC99) – 10 DPC","col":"IL-17A (CTLA-8)","z":-0.37},{"row":"PBS (NC99) – 10 DPC","col":"RANTES (CCL5)","z":1.35},{"row":"PBS (NC99) – 10 DPC","col":"Eotaxin (CCL11)","z":-0.1},
      {"row":"PBS (NC99) – 28 DPC","col":"IL-33","z":0.5},{"row":"PBS (NC99) – 28 DPC","col":"IL-9","z":-0.52},{"row":"PBS (NC99) – 28 DPC","col":"IL-23","z":0.67},{"row":"PBS (NC99) – 28 DPC","col":"IL-27","z":-0.52},{"row":"PBS (NC99) – 28 DPC","col":"MIP-2 alpha (CXCL2)","z":-0.52},{"row":"PBS (NC99) – 28 DPC","col":"IL-2","z":-0.52},{"row":"PBS (NC99) – 28 DPC","col":"IL-10","z":-0.37},{"row":"PBS (NC99) – 28 DPC","col":"IL-5","z":-0.45},{"row":"PBS (NC99) – 28 DPC","col":"IL-13","z":-0.45},{"row":"PBS (NC99) – 28 DPC","col":"IL-4","z":-0.45},{"row":"PBS (NC99) – 28 DPC","col":"IL-22","z":-0.6},{"row":"PBS (NC99) – 28 DPC","col":"MCP-3 (CCL7)","z":-0.6},{"row":"PBS (NC99) – 28 DPC","col":"IP-10 (CXCL10)","z":-0.6},{"row":"PBS (NC99) – 28 DPC","col":"MIP-1 beta (CCL4)","z":0.2},{"row":"PBS (NC99) – 28 DPC","col":"IFN gamma","z":-0.2},{"row":"PBS (NC99) – 28 DPC","col":"IL-18","z":-0.45},{"row":"PBS (NC99) – 28 DPC","col":"IL-1 beta","z":-0.45},{"row":"PBS (NC99) – 28 DPC","col":"MIP-1 alpha (CCL3)","z":-0.45},{"row":"PBS (NC99) – 28 DPC","col":"IL-12p70","z":-0.45},{"row":"PBS (NC99) – 28 DPC","col":"IL-6","z":-0.45},{"row":"PBS (NC99) – 28 DPC","col":"MCP-1 (CCL2)","z":-0.45},{"row":"PBS (NC99) – 28 DPC","col":"GRO alpha (CXCL1)","z":-0.6},{"row":"PBS (NC99) – 28 DPC","col":"GM-CSF","z":-0.6},{"row":"PBS (NC99) – 28 DPC","col":"TNF alpha","z":-0.6},{"row":"PBS (NC99) – 28 DPC","col":"IL-17A (CTLA-8)","z":-0.2},{"row":"PBS (NC99) – 28 DPC","col":"RANTES (CCL5)","z":1.05},{"row":"PBS (NC99) – 28 DPC","col":"Eotaxin (CCL11)","z":0.2},
      {"row":"PBS (Mock) – 1 DPC","col":"IL-33","z":0.8},{"row":"PBS (Mock) – 1 DPC","col":"IL-9","z":0.45},{"row":"PBS (Mock) – 1 DPC","col":"IL-23","z":-0.05},{"row":"PBS (Mock) – 1 DPC","col":"IL-27","z":1.6},{"row":"PBS (Mock) – 1 DPC","col":"MIP-2 alpha (CXCL2)","z":0.2},{"row":"PBS (Mock) – 1 DPC","col":"IL-2","z":-0.2},{"row":"PBS (Mock) – 1 DPC","col":"IL-10","z":-0.3},{"row":"PBS (Mock) – 1 DPC","col":"IL-5","z":-0.3},{"row":"PBS (Mock) – 1 DPC","col":"IL-13","z":-0.45},{"row":"PBS (Mock) – 1 DPC","col":"IL-4","z":-0.45},{"row":"PBS (Mock) – 1 DPC","col":"IL-22","z":-0.37},{"row":"PBS (Mock) – 1 DPC","col":"MCP-3 (CCL7)","z":0.2},{"row":"PBS (Mock) – 1 DPC","col":"IP-10 (CXCL10)","z":-0.65},{"row":"PBS (Mock) – 1 DPC","col":"MIP-1 beta (CCL4)","z":-0.6},{"row":"PBS (Mock) – 1 DPC","col":"IFN gamma","z":-0.45},{"row":"PBS (Mock) – 1 DPC","col":"IL-18","z":-0.45},{"row":"PBS (Mock) – 1 DPC","col":"IL-1 beta","z":-0.37},{"row":"PBS (Mock) – 1 DPC","col":"MIP-1 alpha (CCL3)","z":-0.3},{"row":"PBS (Mock) – 1 DPC","col":"IL-12p70","z":-0.12},{"row":"PBS (Mock) – 1 DPC","col":"IL-6","z":-0.45},{"row":"PBS (Mock) – 1 DPC","col":"MCP-1 (CCL2)","z":-0.45},{"row":"PBS (Mock) – 1 DPC","col":"GRO alpha (CXCL1)","z":-0.45},{"row":"PBS (Mock) – 1 DPC","col":"GM-CSF","z":-0.2},{"row":"PBS (Mock) – 1 DPC","col":"TNF alpha","z":-0.37},{"row":"PBS (Mock) – 1 DPC","col":"IL-17A (CTLA-8)","z":-0.37},{"row":"PBS (Mock) – 1 DPC","col":"RANTES (CCL5)","z":-1.4},{"row":"PBS (Mock) – 1 DPC","col":"Eotaxin (CCL11)","z":-1.75},
      {"row":"PBS (Mock) – 3 DPC","col":"IL-33","z":-0.75},{"row":"PBS (Mock) – 3 DPC","col":"IL-9","z":2.62},{"row":"PBS (Mock) – 3 DPC","col":"IL-23","z":2.62},{"row":"PBS (Mock) – 3 DPC","col":"IL-27","z":0.67},{"row":"PBS (Mock) – 3 DPC","col":"MIP-2 alpha (CXCL2)","z":-0.6},{"row":"PBS (Mock) – 3 DPC","col":"IL-2","z":-0.15},{"row":"PBS (Mock) – 3 DPC","col":"IL-10","z":-0.2},{"row":"PBS (Mock) – 3 DPC","col":"IL-5","z":-0.45},{"row":"PBS (Mock) – 3 DPC","col":"IL-13","z":-0.45},{"row":"PBS (Mock) – 3 DPC","col":"IL-4","z":-0.45},{"row":"PBS (Mock) – 3 DPC","col":"IL-22","z":-0.05},{"row":"PBS (Mock) – 3 DPC","col":"MCP-3 (CCL7)","z":-1.1},{"row":"PBS (Mock) – 3 DPC","col":"IP-10 (CXCL10)","z":-0.67},{"row":"PBS (Mock) – 3 DPC","col":"MIP-1 beta (CCL4)","z":-0.67},{"row":"PBS (Mock) – 3 DPC","col":"IFN gamma","z":-0.45},{"row":"PBS (Mock) – 3 DPC","col":"IL-18","z":-0.45},{"row":"PBS (Mock) – 3 DPC","col":"IL-1 beta","z":-0.37},{"row":"PBS (Mock) – 3 DPC","col":"MIP-1 alpha (CCL3)","z":-0.6},{"row":"PBS (Mock) – 3 DPC","col":"IL-12p70","z":-0.45},{"row":"PBS (Mock) – 3 DPC","col":"IL-6","z":-0.6},{"row":"PBS (Mock) – 3 DPC","col":"MCP-1 (CCL2)","z":-0.45},{"row":"PBS (Mock) – 3 DPC","col":"GRO alpha (CXCL1)","z":-0.6},{"row":"PBS (Mock) – 3 DPC","col":"GM-CSF","z":-0.3},{"row":"PBS (Mock) – 3 DPC","col":"TNF alpha","z":-0.37},{"row":"PBS (Mock) – 3 DPC","col":"IL-17A (CTLA-8)","z":-0.15},{"row":"PBS (Mock) – 3 DPC","col":"RANTES (CCL5)","z":-2.12},{"row":"PBS (Mock) – 3 DPC","col":"Eotaxin (CCL11)","z":-1.55},
      {"row":"PBS (Mock) – 7 DPC","col":"IL-33","z":0.3},{"row":"PBS (Mock) – 7 DPC","col":"IL-9","z":0.5},{"row":"PBS (Mock) – 7 DPC","col":"IL-23","z":-0.6},{"row":"PBS (Mock) – 7 DPC","col":"IL-27","z":0.1},{"row":"PBS (Mock) – 7 DPC","col":"MIP-2 alpha (CXCL2)","z":-0.45},{"row":"PBS (Mock) – 7 DPC","col":"IL-2","z":-0.3},{"row":"PBS (Mock) – 7 DPC","col":"IL-10","z":-0.45},{"row":"PBS (Mock) – 7 DPC","col":"IL-5","z":-0.45},{"row":"PBS (Mock) – 7 DPC","col":"IL-13","z":-0.45},{"row":"PBS (Mock) – 7 DPC","col":"IL-4","z":-0.45},{"row":"PBS (Mock) – 7 DPC","col":"IL-22","z":-0.45},{"row":"PBS (Mock) – 7 DPC","col":"MCP-3 (CCL7)","z":0.0},{"row":"PBS (Mock) – 7 DPC","col":"IP-10 (CXCL10)","z":-0.3},{"row":"PBS (Mock) – 7 DPC","col":"MIP-1 beta (CCL4)","z":-0.45},{"row":"PBS (Mock) – 7 DPC","col":"IFN gamma","z":-0.45},{"row":"PBS (Mock) – 7 DPC","col":"IL-18","z":-0.45},{"row":"PBS (Mock) – 7 DPC","col":"IL-1 beta","z":-0.45},{"row":"PBS (Mock) – 7 DPC","col":"MIP-1 alpha (CCL3)","z":-0.45},{"row":"PBS (Mock) – 7 DPC","col":"IL-12p70","z":-0.45},{"row":"PBS (Mock) – 7 DPC","col":"IL-6","z":-0.45},{"row":"PBS (Mock) – 7 DPC","col":"MCP-1 (CCL2)","z":-0.45},{"row":"PBS (Mock) – 7 DPC","col":"GRO alpha (CXCL1)","z":-0.45},{"row":"PBS (Mock) – 7 DPC","col":"GM-CSF","z":-0.3},{"row":"PBS (Mock) – 7 DPC","col":"TNF alpha","z":-0.45},{"row":"PBS (Mock) – 7 DPC","col":"IL-17A (CTLA-8)","z":4.22},{"row":"PBS (Mock) – 7 DPC","col":"RANTES (CCL5)","z":-0.05},{"row":"PBS (Mock) – 7 DPC","col":"Eotaxin (CCL11)","z":0.45},
      {"row":"PBS (Mock) – 10 DPC","col":"IL-33","z":0.45},{"row":"PBS (Mock) – 10 DPC","col":"IL-9","z":1.78},{"row":"PBS (Mock) – 10 DPC","col":"IL-23","z":1.78},{"row":"PBS (Mock) – 10 DPC","col":"IL-27","z":-0.74},{"row":"PBS (Mock) – 10 DPC","col":"MIP-2 alpha (CXCL2)","z":-0.6},{"row":"PBS (Mock) – 10 DPC","col":"IL-2","z":-0.2},{"row":"PBS (Mock) – 10 DPC","col":"IL-10","z":-0.3},{"row":"PBS (Mock) – 10 DPC","col":"IL-5","z":-0.37},{"row":"PBS (Mock) – 10 DPC","col":"IL-13","z":-0.45},{"row":"PBS (Mock) – 10 DPC","col":"IL-4","z":-0.45},{"row":"PBS (Mock) – 10 DPC","col":"IL-22","z":-0.45},{"row":"PBS (Mock) – 10 DPC","col":"MCP-3 (CCL7)","z":-0.74},{"row":"PBS (Mock) – 10 DPC","col":"IP-10 (CXCL10)","z":-0.74},{"row":"PBS (Mock) – 10 DPC","col":"MIP-1 beta (CCL4)","z":-0.6},{"row":"PBS (Mock) – 10 DPC","col":"IFN gamma","z":-0.45},{"row":"PBS (Mock) – 10 DPC","col":"IL-18","z":-0.45},{"row":"PBS (Mock) – 10 DPC","col":"IL-1 beta","z":-0.6},{"row":"PBS (Mock) – 10 DPC","col":"MIP-1 alpha (CCL3)","z":-0.45},{"row":"PBS (Mock) – 10 DPC","col":"IL-12p70","z":-0.45},{"row":"PBS (Mock) – 10 DPC","col":"IL-6","z":-0.37},{"row":"PBS (Mock) – 10 DPC","col":"MCP-1 (CCL2)","z":-0.37},{"row":"PBS (Mock) – 10 DPC","col":"GRO alpha (CXCL1)","z":-0.6},{"row":"PBS (Mock) – 10 DPC","col":"GM-CSF","z":-0.45},{"row":"PBS (Mock) – 10 DPC","col":"TNF alpha","z":-0.37},{"row":"PBS (Mock) – 10 DPC","col":"IL-17A (CTLA-8)","z":-0.2},{"row":"PBS (Mock) – 10 DPC","col":"RANTES (CCL5)","z":-0.67},{"row":"PBS (Mock) – 10 DPC","col":"Eotaxin (CCL11)","z":-1.4},
      {"row":"PBS (Mock) – 28 DPC","col":"IL-33","z":0.45},{"row":"PBS (Mock) – 28 DPC","col":"IL-9","z":-0.37},{"row":"PBS (Mock) – 28 DPC","col":"IL-23","z":-0.67},{"row":"PBS (Mock) – 28 DPC","col":"IL-27","z":-0.3},{"row":"PBS (Mock) – 28 DPC","col":"MIP-2 alpha (CXCL2)","z":-0.45},{"row":"PBS (Mock) – 28 DPC","col":"IL-2","z":-0.45},{"row":"PBS (Mock) – 28 DPC","col":"IL-10","z":-0.37},{"row":"PBS (Mock) – 28 DPC","col":"IL-5","z":-0.45},{"row":"PBS (Mock) – 28 DPC","col":"IL-13","z":-0.45},{"row":"PBS (Mock) – 28 DPC","col":"IL-4","z":-0.45},{"row":"PBS (Mock) – 28 DPC","col":"IL-22","z":-0.45},{"row":"PBS (Mock) – 28 DPC","col":"MCP-3 (CCL7)","z":-0.45},{"row":"PBS (Mock) – 28 DPC","col":"IP-10 (CXCL10)","z":-0.45},{"row":"PBS (Mock) – 28 DPC","col":"MIP-1 beta (CCL4)","z":-0.45},{"row":"PBS (Mock) – 28 DPC","col":"IFN gamma","z":-0.45},{"row":"PBS (Mock) – 28 DPC","col":"IL-18","z":-0.45},{"row":"PBS (Mock) – 28 DPC","col":"IL-1 beta","z":-0.45},{"row":"PBS (Mock) – 28 DPC","col":"MIP-1 alpha (CCL3)","z":-0.45},{"row":"PBS (Mock) – 28 DPC","col":"IL-12p70","z":-0.45},{"row":"PBS (Mock) – 28 DPC","col":"IL-6","z":-0.45},{"row":"PBS (Mock) – 28 DPC","col":"MCP-1 (CCL2)","z":-0.45},{"row":"PBS (Mock) – 28 DPC","col":"GRO alpha (CXCL1)","z":-0.45},{"row":"PBS (Mock) – 28 DPC","col":"GM-CSF","z":-0.45},{"row":"PBS (Mock) – 28 DPC","col":"TNF alpha","z":-0.45},{"row":"PBS (Mock) – 28 DPC","col":"IL-17A (CTLA-8)","z":-0.45},{"row":"PBS (Mock) – 28 DPC","col":"RANTES (CCL5)","z":0.3},{"row":"PBS (Mock) – 28 DPC","col":"Eotaxin (CCL11)","z":0.05}
    ]
  },
  "resolve": {"scale": {"color": "independent"}, "legend": {"color": "independent"}},
  "spacing": 29,
  "vconcat": [
    {
      "bounds": "flush",
      "spacing": 0,
      "resolve": {"scale": {"color": "independent"}, "legend": {"color": "independent"}},
      "vconcat": [
        {
          "width": 562,
          "height": 74,
          "data": {"name": "treeA"},
          "title": {"text": "A", "orient": "left", "anchor": "end", "angle": 0, "align": "right", "baseline": "top", "offset": 0, "dy": 2, "fontSize": 22, "fontWeight": "bold"},
          "layer": [
            {
              "mark": {"type": "rule", "color": "#1a1a1a", "strokeWidth": 1},
              "encoding": {
                "x": {"field": "left", "type": "quantitative", "scale": {"domain": [-0.5, 26.5], "nice": false, "zero": false}, "axis": null},
                "x2": {"field": "right"},
                "y": {"field": "height", "type": "quantitative", "scale": {"domain": [0, 74], "nice": false}, "axis": null}
              }
            },
            {
              "mark": {"type": "rule", "color": "#1a1a1a", "strokeWidth": 1},
              "encoding": {
                "x": {"field": "left", "type": "quantitative", "scale": {"domain": [-0.5, 26.5], "nice": false, "zero": false}, "axis": null},
                "y": {"field": "leftHeight", "type": "quantitative", "scale": {"domain": [0, 74], "nice": false}, "axis": null},
                "y2": {"field": "height"}
              }
            },
            {
              "mark": {"type": "rule", "color": "#1a1a1a", "strokeWidth": 1},
              "encoding": {
                "x": {"field": "right", "type": "quantitative", "scale": {"domain": [-0.5, 26.5], "nice": false, "zero": false}, "axis": null},
                "y": {"field": "rightHeight", "type": "quantitative", "scale": {"domain": [0, 74], "nice": false}, "axis": null},
                "y2": {"field": "height"}
              }
            }
          ]
        },
        {
          "bounds": "flush",
          "spacing": 5.7,
          "resolve": {"scale": {"color": "independent"}, "legend": {"color": "independent"}},
          "vconcat": [
            {
              "width": 562,
              "height": 104,
              "data": {"name": "cellsA"},
              "transform": [{"filter": {"field": "row", "oneOf": ["OVA (OVA) – 1 DPC", "OVA (OVA) – 3 DPC", "OVA (OVA) – 7 DPC", "OVA (OVA) – 10 DPC", "OVA (OVA) – 28 DPC"]}}],
              "mark": {"type": "rect"},
              "encoding": {
                "x": {"field": "col", "type": "nominal", "scale": {"domain": ["IL-2", "IFN gamma", "IL-9", "IL-22", "IL-23", "IL-10", "IL-18", "TNF alpha", "IL-27", "IL-4", "IL-6", "IL-1 beta", "GM-CSF", "MIP-1 alpha (CCL3)", "IL-5", "MIP-2 alpha (CXCL2)", "MIP-1 beta (CCL4)", "GRO alpha (CXCL1)", "IL-13", "MCP-1 (CCL2)", "IL-12p70", "RANTES (CCL5)", "Eotaxin (CCL11)", "IL-17A (CTLA-8)", "IL-33", "IP-10 (CXCL10)", "MCP-3 (CCL7)"], "paddingInner": 0, "paddingOuter": 0}, "axis": null},
                "y": {"field": "row", "type": "nominal", "scale": {"domain": ["OVA (OVA) – 1 DPC", "OVA (OVA) – 3 DPC", "OVA (OVA) – 7 DPC", "OVA (OVA) – 10 DPC", "OVA (OVA) – 28 DPC"], "paddingInner": 0, "paddingOuter": 0}, "axis": {"orient": "right", "title": null, "ticks": false, "tickSize": 0, "domain": false, "labelPadding": 5, "labelLimit": 300}},
                "color": {"field": "z", "type": "quantitative", "scale": {"domain": [-2.85, -2.28, -1.71, -1.14, -0.57, 0, 0.57, 1.14, 1.71, 2.28, 2.85], "range": ["#053061", "#2166ac", "#4393c3", "#92c5de", "#d1e5f0", "#f7f7f7", "#fddbc7", "#f4a582", "#d6604d", "#b2182b", "#67001f"], "interpolate": "rgb", "clamp": true}, "legend": {"orient": "none", "legendX": 706.3, "legendY": 0, "direction": "vertical", "title": null, "gradientLength": 208, "gradientThickness": 14, "gradientStrokeWidth": 0, "values": [-2, -1, 0, 1, 2], "labelExpr": "'' + datum.value", "labelOffset": 4, "labelOverlap": false, "padding": 0}}
              }
            },
            {
              "width": 562,
              "height": 104,
              "data": {"name": "cellsA"},
              "transform": [{"filter": {"field": "row", "oneOf": ["PBS (None) – 1 DPC", "PBS (None) – 3 DPC", "PBS (None) – 7 DPC", "PBS (None) – 10 DPC", "PBS (None) – 28 DPC"]}}],
              "mark": {"type": "rect"},
              "encoding": {
                "x": {"field": "col", "type": "nominal", "scale": {"domain": ["IL-2", "IFN gamma", "IL-9", "IL-22", "IL-23", "IL-10", "IL-18", "TNF alpha", "IL-27", "IL-4", "IL-6", "IL-1 beta", "GM-CSF", "MIP-1 alpha (CCL3)", "IL-5", "MIP-2 alpha (CXCL2)", "MIP-1 beta (CCL4)", "GRO alpha (CXCL1)", "IL-13", "MCP-1 (CCL2)", "IL-12p70", "RANTES (CCL5)", "Eotaxin (CCL11)", "IL-17A (CTLA-8)", "IL-33", "IP-10 (CXCL10)", "MCP-3 (CCL7)"], "paddingInner": 0, "paddingOuter": 0}, "axis": {"orient": "bottom", "title": null, "labelAngle": 45, "labelAlign": "left", "labelBaseline": "top", "labelPadding": 6, "ticks": false, "tickSize": 0, "domain": false, "labelLimit": 400}},
                "y": {"field": "row", "type": "nominal", "scale": {"domain": ["PBS (None) – 1 DPC", "PBS (None) – 3 DPC", "PBS (None) – 7 DPC", "PBS (None) – 10 DPC", "PBS (None) – 28 DPC"], "paddingInner": 0, "paddingOuter": 0}, "axis": {"orient": "right", "title": null, "ticks": false, "tickSize": 0, "domain": false, "labelPadding": 5, "labelLimit": 300}},
                "color": {"field": "z", "type": "quantitative", "scale": {"domain": [-2.85, -2.28, -1.71, -1.14, -0.57, 0, 0.57, 1.14, 1.71, 2.28, 2.85], "range": ["#053061", "#2166ac", "#4393c3", "#92c5de", "#d1e5f0", "#f7f7f7", "#fddbc7", "#f4a582", "#d6604d", "#b2182b", "#67001f"], "interpolate": "rgb", "clamp": true}, "legend": null}
              }
            }
          ]
        }
      ]
    },
    {
      "bounds": "flush",
      "spacing": 0,
      "resolve": {"scale": {"color": "independent"}, "legend": {"color": "independent"}},
      "vconcat": [
        {
          "width": 562,
          "height": 74,
          "data": {"name": "treeB"},
          "title": {"text": "B", "orient": "left", "anchor": "end", "angle": 0, "align": "right", "baseline": "top", "offset": 0, "dy": 0, "fontSize": 22, "fontWeight": "bold"},
          "layer": [
            {
              "mark": {"type": "rule", "color": "#1a1a1a", "strokeWidth": 1},
              "encoding": {
                "x": {"field": "left", "type": "quantitative", "scale": {"domain": [-0.5, 26.5], "nice": false, "zero": false}, "axis": null},
                "x2": {"field": "right"},
                "y": {"field": "height", "type": "quantitative", "scale": {"domain": [0, 74], "nice": false}, "axis": null}
              }
            },
            {
              "mark": {"type": "rule", "color": "#1a1a1a", "strokeWidth": 1},
              "encoding": {
                "x": {"field": "left", "type": "quantitative", "scale": {"domain": [-0.5, 26.5], "nice": false, "zero": false}, "axis": null},
                "y": {"field": "leftHeight", "type": "quantitative", "scale": {"domain": [0, 74], "nice": false}, "axis": null},
                "y2": {"field": "height"}
              }
            },
            {
              "mark": {"type": "rule", "color": "#1a1a1a", "strokeWidth": 1},
              "encoding": {
                "x": {"field": "right", "type": "quantitative", "scale": {"domain": [-0.5, 26.5], "nice": false, "zero": false}, "axis": null},
                "y": {"field": "rightHeight", "type": "quantitative", "scale": {"domain": [0, 74], "nice": false}, "axis": null},
                "y2": {"field": "height"}
              }
            }
          ]
        },
        {
          "bounds": "flush",
          "spacing": 5.7,
          "resolve": {"scale": {"color": "independent"}, "legend": {"color": "independent"}},
          "vconcat": [
            {
              "width": 562,
              "height": 104,
              "data": {"name": "cellsB"},
              "transform": [{"filter": {"field": "row", "oneOf": ["TIV (NC99) – 1 DPC", "TIV (NC99) – 3 DPC", "TIV (NC99) – 7 DPC", "TIV (NC99) – 10 DPC", "TIV (NC99) – 28 DPC"]}}],
              "mark": {"type": "rect"},
              "encoding": {
                "x": {"field": "col", "type": "nominal", "scale": {"domain": ["IL-33", "IL-9", "IL-23", "IL-27", "MIP-2 alpha (CXCL2)", "IL-2", "IL-10", "IL-5", "IL-13", "IL-4", "IL-22", "MCP-3 (CCL7)", "IP-10 (CXCL10)", "MIP-1 beta (CCL4)", "IFN gamma", "IL-18", "IL-1 beta", "MIP-1 alpha (CCL3)", "IL-12p70", "IL-6", "MCP-1 (CCL2)", "GRO alpha (CXCL1)", "GM-CSF", "TNF alpha", "IL-17A (CTLA-8)", "RANTES (CCL5)", "Eotaxin (CCL11)"], "paddingInner": 0, "paddingOuter": 0}, "axis": null},
                "y": {"field": "row", "type": "nominal", "scale": {"domain": ["TIV (NC99) – 1 DPC", "TIV (NC99) – 3 DPC", "TIV (NC99) – 7 DPC", "TIV (NC99) – 10 DPC", "TIV (NC99) – 28 DPC"], "paddingInner": 0, "paddingOuter": 0}, "axis": {"orient": "right", "title": null, "ticks": false, "tickSize": 0, "domain": false, "labelPadding": 5, "labelLimit": 300}},
                "color": {"field": "z", "type": "quantitative", "scale": {"domain": [-4.22, -3.376, -2.532, -1.688, -0.844, 0, 0.844, 1.688, 2.532, 3.376, 4.22], "range": ["#053061", "#2166ac", "#4393c3", "#92c5de", "#d1e5f0", "#f7f7f7", "#fddbc7", "#f4a582", "#d6604d", "#b2182b", "#67001f"], "interpolate": "rgb", "clamp": true}, "legend": {"orient": "none", "legendX": 707.3, "legendY": 0.4, "direction": "vertical", "title": null, "gradientLength": 207.3, "gradientThickness": 14, "gradientStrokeWidth": 0, "values": [-4, -2, 0, 2, 4], "labelExpr": "'' + datum.value", "labelOffset": 4, "labelOverlap": false, "padding": 0}}
              }
            },
            {
              "width": 562,
              "height": 104,
              "data": {"name": "cellsB"},
              "transform": [{"filter": {"field": "row", "oneOf": ["TIV (Mock) – 1 DPC", "TIV (Mock) – 3 DPC", "TIV (Mock) – 7 DPC", "TIV (Mock) – 10 DPC", "TIV (Mock) – 28 DPC"]}}],
              "mark": {"type": "rect"},
              "encoding": {
                "x": {"field": "col", "type": "nominal", "scale": {"domain": ["IL-33", "IL-9", "IL-23", "IL-27", "MIP-2 alpha (CXCL2)", "IL-2", "IL-10", "IL-5", "IL-13", "IL-4", "IL-22", "MCP-3 (CCL7)", "IP-10 (CXCL10)", "MIP-1 beta (CCL4)", "IFN gamma", "IL-18", "IL-1 beta", "MIP-1 alpha (CCL3)", "IL-12p70", "IL-6", "MCP-1 (CCL2)", "GRO alpha (CXCL1)", "GM-CSF", "TNF alpha", "IL-17A (CTLA-8)", "RANTES (CCL5)", "Eotaxin (CCL11)"], "paddingInner": 0, "paddingOuter": 0}, "axis": null},
                "y": {"field": "row", "type": "nominal", "scale": {"domain": ["TIV (Mock) – 1 DPC", "TIV (Mock) – 3 DPC", "TIV (Mock) – 7 DPC", "TIV (Mock) – 10 DPC", "TIV (Mock) – 28 DPC"], "paddingInner": 0, "paddingOuter": 0}, "axis": {"orient": "right", "title": null, "ticks": false, "tickSize": 0, "domain": false, "labelPadding": 5, "labelLimit": 300}},
                "color": {"field": "z", "type": "quantitative", "scale": {"domain": [-4.22, -3.376, -2.532, -1.688, -0.844, 0, 0.844, 1.688, 2.532, 3.376, 4.22], "range": ["#053061", "#2166ac", "#4393c3", "#92c5de", "#d1e5f0", "#f7f7f7", "#fddbc7", "#f4a582", "#d6604d", "#b2182b", "#67001f"], "interpolate": "rgb", "clamp": true}, "legend": null}
              }
            },
            {
              "width": 562,
              "height": 104,
              "data": {"name": "cellsB"},
              "transform": [{"filter": {"field": "row", "oneOf": ["PBS (NC99) – 1 DPC", "PBS (NC99) – 3 DPC", "PBS (NC99) – 7 DPC", "PBS (NC99) – 10 DPC", "PBS (NC99) – 28 DPC"]}}],
              "mark": {"type": "rect"},
              "encoding": {
                "x": {"field": "col", "type": "nominal", "scale": {"domain": ["IL-33", "IL-9", "IL-23", "IL-27", "MIP-2 alpha (CXCL2)", "IL-2", "IL-10", "IL-5", "IL-13", "IL-4", "IL-22", "MCP-3 (CCL7)", "IP-10 (CXCL10)", "MIP-1 beta (CCL4)", "IFN gamma", "IL-18", "IL-1 beta", "MIP-1 alpha (CCL3)", "IL-12p70", "IL-6", "MCP-1 (CCL2)", "GRO alpha (CXCL1)", "GM-CSF", "TNF alpha", "IL-17A (CTLA-8)", "RANTES (CCL5)", "Eotaxin (CCL11)"], "paddingInner": 0, "paddingOuter": 0}, "axis": null},
                "y": {"field": "row", "type": "nominal", "scale": {"domain": ["PBS (NC99) – 1 DPC", "PBS (NC99) – 3 DPC", "PBS (NC99) – 7 DPC", "PBS (NC99) – 10 DPC", "PBS (NC99) – 28 DPC"], "paddingInner": 0, "paddingOuter": 0}, "axis": {"orient": "right", "title": null, "ticks": false, "tickSize": 0, "domain": false, "labelPadding": 5, "labelLimit": 300}},
                "color": {"field": "z", "type": "quantitative", "scale": {"domain": [-4.22, -3.376, -2.532, -1.688, -0.844, 0, 0.844, 1.688, 2.532, 3.376, 4.22], "range": ["#053061", "#2166ac", "#4393c3", "#92c5de", "#d1e5f0", "#f7f7f7", "#fddbc7", "#f4a582", "#d6604d", "#b2182b", "#67001f"], "interpolate": "rgb", "clamp": true}, "legend": null}
              }
            },
            {
              "width": 562,
              "height": 104,
              "data": {"name": "cellsB"},
              "transform": [{"filter": {"field": "row", "oneOf": ["PBS (Mock) – 1 DPC", "PBS (Mock) – 3 DPC", "PBS (Mock) – 7 DPC", "PBS (Mock) – 10 DPC", "PBS (Mock) – 28 DPC"]}}],
              "mark": {"type": "rect"},
              "encoding": {
                "x": {"field": "col", "type": "nominal", "scale": {"domain": ["IL-33", "IL-9", "IL-23", "IL-27", "MIP-2 alpha (CXCL2)", "IL-2", "IL-10", "IL-5", "IL-13", "IL-4", "IL-22", "MCP-3 (CCL7)", "IP-10 (CXCL10)", "MIP-1 beta (CCL4)", "IFN gamma", "IL-18", "IL-1 beta", "MIP-1 alpha (CCL3)", "IL-12p70", "IL-6", "MCP-1 (CCL2)", "GRO alpha (CXCL1)", "GM-CSF", "TNF alpha", "IL-17A (CTLA-8)", "RANTES (CCL5)", "Eotaxin (CCL11)"], "paddingInner": 0, "paddingOuter": 0}, "axis": {"orient": "bottom", "title": null, "labelAngle": 45, "labelAlign": "left", "labelBaseline": "top", "labelPadding": 6, "ticks": false, "tickSize": 0, "domain": false, "labelLimit": 400}},
                "y": {"field": "row", "type": "nominal", "scale": {"domain": ["PBS (Mock) – 1 DPC", "PBS (Mock) – 3 DPC", "PBS (Mock) – 7 DPC", "PBS (Mock) – 10 DPC", "PBS (Mock) – 28 DPC"], "paddingInner": 0, "paddingOuter": 0}, "axis": {"orient": "right", "title": null, "ticks": false, "tickSize": 0, "domain": false, "labelPadding": 5, "labelLimit": 300}},
                "color": {"field": "z", "type": "quantitative", "scale": {"domain": [-4.22, -3.376, -2.532, -1.688, -0.844, 0, 0.844, 1.688, 2.532, 3.376, 4.22], "range": ["#053061", "#2166ac", "#4393c3", "#92c5de", "#d1e5f0", "#f7f7f7", "#fddbc7", "#f4a582", "#d6604d", "#b2182b", "#67001f"], "interpolate": "rgb", "clamp": true}, "legend": null}
              }
            }
          ]
        }
      ]
    }
  ]
}
